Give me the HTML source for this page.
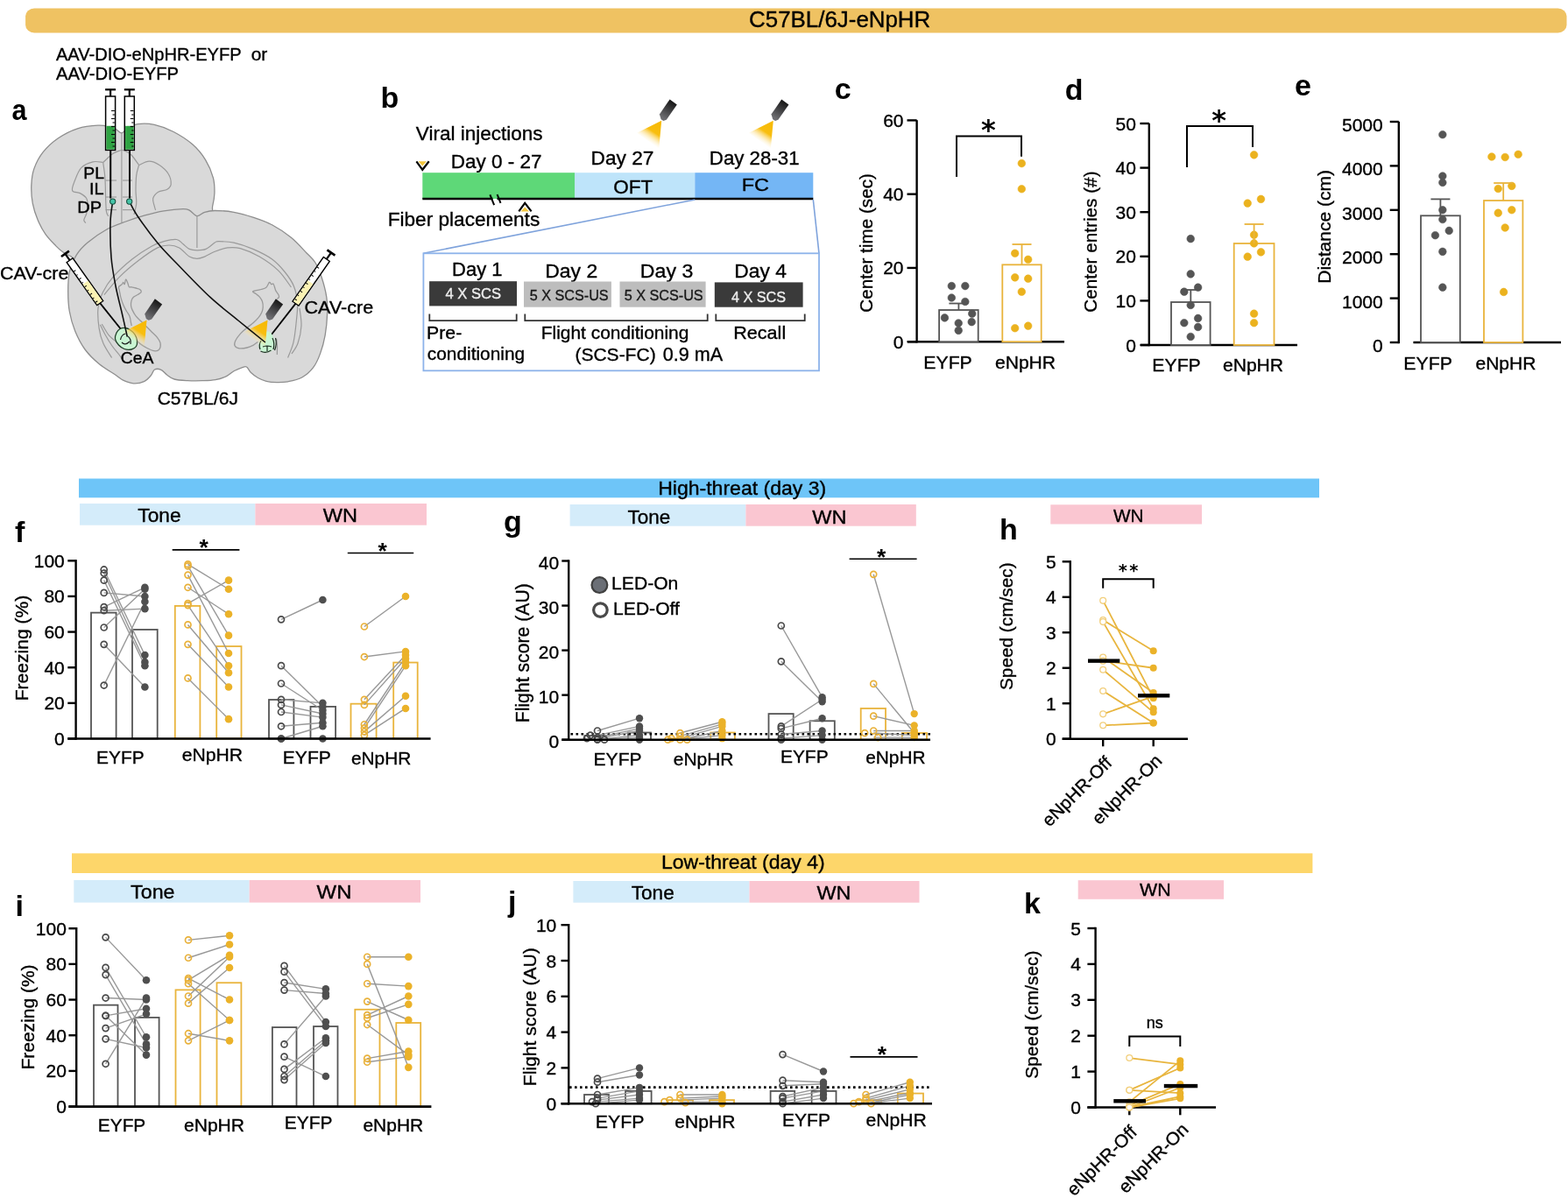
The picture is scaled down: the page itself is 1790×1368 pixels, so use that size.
<!DOCTYPE html>
<html><head><meta charset="utf-8"><title>C57BL/6J-eNpHR</title>
<style>html,body{margin:0;padding:0;background:#fff;}svg{display:block;font-family:'Liberation Sans', Arial, Helvetica, sans-serif;}</style>
</head><body>
<svg width="1790" height="1368" viewBox="0 0 1790 1368">
<rect width="1790" height="1368" fill="#fff"/>
<rect x="29.1" y="9.6" width="1759.4" height="27.8" rx="10" ry="9" fill="#EFC262"/>
<text x="855.11" y="30.8" font-size="25.3" textLength="207.15" lengthAdjust="spacingAndGlyphs" stroke="#000" stroke-width="0.35">C57BL/6J-eNpHR</text>
<text x="952.8" y="113.3" font-size="34" font-weight="bold">c</text>
<line x1="1036" y1="390.2" x2="1215" y2="390.2" stroke="#000" stroke-width="2.6"/>
<line x1="1046.6" y1="391.4" x2="1046.6" y2="137.2" stroke="#000" stroke-width="2.4"/>
<line x1="1035.5" y1="390.2" x2="1046.6" y2="390.2" stroke="#000" stroke-width="2.4"/>
<text x="1031.5" y="397.76" font-size="21" text-anchor="end" stroke="#000" stroke-width="0.35">0</text>
<line x1="1035.5" y1="305.93" x2="1046.6" y2="305.93" stroke="#000" stroke-width="2.4"/>
<text x="1031.5" y="313.49" font-size="21" text-anchor="end" stroke="#000" stroke-width="0.35">20</text>
<line x1="1035.5" y1="221.67" x2="1046.6" y2="221.67" stroke="#000" stroke-width="2.4"/>
<text x="1031.5" y="229.23" font-size="21" text-anchor="end" stroke="#000" stroke-width="0.35">40</text>
<line x1="1035.5" y1="137.4" x2="1046.6" y2="137.4" stroke="#000" stroke-width="2.4"/>
<text x="1031.5" y="144.96" font-size="21" text-anchor="end" stroke="#000" stroke-width="0.35">60</text>
<rect x="1072.1" y="354" width="44.6" height="36.2" fill="#fff" stroke="#555555" stroke-width="1.8"/>
<rect x="1144.3" y="302.3" width="44.4" height="87.9" fill="#fff" stroke="#E9B43C" stroke-width="1.8"/>
<circle cx="1086.32" cy="326.58" r="4.3" fill="#555555" stroke="#555555" stroke-width="0.6"/>
<circle cx="1101.84" cy="326.58" r="4.3" fill="#555555" stroke="#555555" stroke-width="0.6"/>
<circle cx="1086.32" cy="340" r="4.3" fill="#555555" stroke="#555555" stroke-width="0.6"/>
<circle cx="1101.84" cy="344.47" r="4.3" fill="#555555" stroke="#555555" stroke-width="0.6"/>
<circle cx="1078.42" cy="362.89" r="4.3" fill="#555555" stroke="#555555" stroke-width="0.6"/>
<circle cx="1109.74" cy="358.16" r="4.3" fill="#555555" stroke="#555555" stroke-width="0.6"/>
<circle cx="1094.21" cy="368.95" r="4.3" fill="#555555" stroke="#555555" stroke-width="0.6"/>
<circle cx="1109.21" cy="367.63" r="4.3" fill="#555555" stroke="#555555" stroke-width="0.6"/>
<circle cx="1094.21" cy="377.37" r="4.3" fill="#555555" stroke="#555555" stroke-width="0.6"/>
<circle cx="1166.32" cy="186.58" r="4.3" fill="#EBB21E" stroke="#EBB21E" stroke-width="0.6"/>
<circle cx="1166.32" cy="215.79" r="4.3" fill="#EBB21E" stroke="#EBB21E" stroke-width="0.6"/>
<circle cx="1158.68" cy="289.21" r="4.3" fill="#EBB21E" stroke="#EBB21E" stroke-width="0.6"/>
<circle cx="1173.68" cy="296.32" r="4.3" fill="#EBB21E" stroke="#EBB21E" stroke-width="0.6"/>
<circle cx="1158.68" cy="316.84" r="4.3" fill="#EBB21E" stroke="#EBB21E" stroke-width="0.6"/>
<circle cx="1173.68" cy="318.16" r="4.3" fill="#EBB21E" stroke="#EBB21E" stroke-width="0.6"/>
<circle cx="1166.32" cy="333.16" r="4.3" fill="#EBB21E" stroke="#EBB21E" stroke-width="0.6"/>
<circle cx="1158.68" cy="374.74" r="4.3" fill="#EBB21E" stroke="#EBB21E" stroke-width="0.6"/>
<circle cx="1173.68" cy="372.11" r="4.3" fill="#EBB21E" stroke="#EBB21E" stroke-width="0.6"/>
<line x1="1094.4" y1="346.5" x2="1094.4" y2="354" stroke="#555555" stroke-width="1.8"/>
<line x1="1083.4" y1="346.5" x2="1105.4" y2="346.5" stroke="#555555" stroke-width="1.8"/>
<line x1="1166.5" y1="279" x2="1166.5" y2="302.3" stroke="#E9B43C" stroke-width="1.8"/>
<line x1="1155.5" y1="279" x2="1177.5" y2="279" stroke="#E9B43C" stroke-width="1.8"/>
<text x="995.83" y="356.73" font-size="20.69" textLength="158.65" lengthAdjust="spacingAndGlyphs" transform="rotate(-90 995.83 356.73)" stroke="#000" stroke-width="0.35">Center time (sec)</text>
<text x="1054.3" y="420.8" font-size="20" textLength="55.5" lengthAdjust="spacingAndGlyphs" stroke="#000" stroke-width="0.35">EYFP</text>
<text x="1135.96" y="420.8" font-size="20" textLength="69.07" lengthAdjust="spacingAndGlyphs" stroke="#000" stroke-width="0.35">eNpHR</text>
<path d="M1092 202 V155.5 H1166 V178.7" fill="none" stroke="#000" stroke-width="2"/>
<text x="1128.4" y="159.2" font-size="32" text-anchor="middle" font-family="DejaVu Sans" font-weight="bold">*</text>
<text x="1215.8" y="114" font-size="34" font-weight="bold">d</text>
<line x1="1302" y1="394" x2="1481" y2="394" stroke="#000" stroke-width="2.6"/>
<line x1="1311.8" y1="395.2" x2="1311.8" y2="140.8" stroke="#000" stroke-width="2.4"/>
<line x1="1301.4" y1="394" x2="1311.8" y2="394" stroke="#000" stroke-width="2.4"/>
<text x="1296.9" y="401.56" font-size="21" text-anchor="end" stroke="#000" stroke-width="0.35">0</text>
<line x1="1301.4" y1="343.4" x2="1311.8" y2="343.4" stroke="#000" stroke-width="2.4"/>
<text x="1296.9" y="350.96" font-size="21" text-anchor="end" stroke="#000" stroke-width="0.35">10</text>
<line x1="1301.4" y1="292.8" x2="1311.8" y2="292.8" stroke="#000" stroke-width="2.4"/>
<text x="1296.9" y="300.36" font-size="21" text-anchor="end" stroke="#000" stroke-width="0.35">20</text>
<line x1="1301.4" y1="242.2" x2="1311.8" y2="242.2" stroke="#000" stroke-width="2.4"/>
<text x="1296.9" y="249.76" font-size="21" text-anchor="end" stroke="#000" stroke-width="0.35">30</text>
<line x1="1301.4" y1="191.6" x2="1311.8" y2="191.6" stroke="#000" stroke-width="2.4"/>
<text x="1296.9" y="199.16" font-size="21" text-anchor="end" stroke="#000" stroke-width="0.35">40</text>
<line x1="1301.4" y1="141" x2="1311.8" y2="141" stroke="#000" stroke-width="2.4"/>
<text x="1296.9" y="148.56" font-size="21" text-anchor="end" stroke="#000" stroke-width="0.35">50</text>
<rect x="1337" y="345" width="44.6" height="49" fill="#fff" stroke="#555555" stroke-width="1.8"/>
<rect x="1408.7" y="278" width="45.8" height="116" fill="#fff" stroke="#E9B43C" stroke-width="1.8"/>
<circle cx="1359.21" cy="272.63" r="4.3" fill="#555555" stroke="#555555" stroke-width="0.6"/>
<circle cx="1359.21" cy="312.89" r="4.3" fill="#555555" stroke="#555555" stroke-width="0.6"/>
<circle cx="1351.84" cy="333.16" r="4.3" fill="#555555" stroke="#555555" stroke-width="0.6"/>
<circle cx="1367.63" cy="328.16" r="4.3" fill="#555555" stroke="#555555" stroke-width="0.6"/>
<circle cx="1359.21" cy="348.42" r="4.3" fill="#555555" stroke="#555555" stroke-width="0.6"/>
<circle cx="1367.63" cy="363.42" r="4.3" fill="#555555" stroke="#555555" stroke-width="0.6"/>
<circle cx="1351.84" cy="368.68" r="4.3" fill="#555555" stroke="#555555" stroke-width="0.6"/>
<circle cx="1367.63" cy="373.42" r="4.3" fill="#555555" stroke="#555555" stroke-width="0.6"/>
<circle cx="1359.21" cy="384.47" r="4.3" fill="#555555" stroke="#555555" stroke-width="0.6"/>
<circle cx="1431.58" cy="176.84" r="4.3" fill="#EBB21E" stroke="#EBB21E" stroke-width="0.6"/>
<circle cx="1424.21" cy="232.11" r="4.3" fill="#EBB21E" stroke="#EBB21E" stroke-width="0.6"/>
<circle cx="1439.47" cy="227.37" r="4.3" fill="#EBB21E" stroke="#EBB21E" stroke-width="0.6"/>
<circle cx="1431.58" cy="268.16" r="4.3" fill="#EBB21E" stroke="#EBB21E" stroke-width="0.6"/>
<circle cx="1431.58" cy="277.89" r="4.3" fill="#EBB21E" stroke="#EBB21E" stroke-width="0.6"/>
<circle cx="1424.21" cy="293.16" r="4.3" fill="#EBB21E" stroke="#EBB21E" stroke-width="0.6"/>
<circle cx="1439.47" cy="287.89" r="4.3" fill="#EBB21E" stroke="#EBB21E" stroke-width="0.6"/>
<circle cx="1431.58" cy="358.16" r="4.3" fill="#EBB21E" stroke="#EBB21E" stroke-width="0.6"/>
<circle cx="1431.58" cy="368.68" r="4.3" fill="#EBB21E" stroke="#EBB21E" stroke-width="0.6"/>
<line x1="1359.3" y1="331" x2="1359.3" y2="345" stroke="#555555" stroke-width="1.8"/>
<line x1="1348.3" y1="331" x2="1370.3" y2="331" stroke="#555555" stroke-width="1.8"/>
<line x1="1431.6" y1="256" x2="1431.6" y2="278" stroke="#E9B43C" stroke-width="1.8"/>
<line x1="1420.6" y1="256" x2="1442.6" y2="256" stroke="#E9B43C" stroke-width="1.8"/>
<text x="1251.54" y="356.74" font-size="20.73" textLength="161.3" lengthAdjust="spacingAndGlyphs" transform="rotate(-90 1251.54 356.74)" stroke="#000" stroke-width="0.35">Center entries (#)</text>
<text x="1315.3" y="424.2" font-size="20" textLength="55.5" lengthAdjust="spacingAndGlyphs" stroke="#000" stroke-width="0.35">EYFP</text>
<text x="1395.96" y="424.2" font-size="20" textLength="69.07" lengthAdjust="spacingAndGlyphs" stroke="#000" stroke-width="0.35">eNpHR</text>
<path d="M1355 191 V144 H1430 V168" fill="none" stroke="#000" stroke-width="2"/>
<text x="1391.6" y="147.8" font-size="32" text-anchor="middle" font-family="DejaVu Sans" font-weight="bold">*</text>
<text x="1478" y="108.5" font-size="34" font-weight="bold">e</text>
<line x1="1613.4" y1="391" x2="1782" y2="391" stroke="#000" stroke-width="2.6"/>
<line x1="1596.8" y1="392.2" x2="1596.8" y2="138.8" stroke="#000" stroke-width="2.4"/>
<line x1="1586.7" y1="391" x2="1596.8" y2="391" stroke="#000" stroke-width="2.4"/>
<text x="1578.7" y="402" font-size="21" text-anchor="end" stroke="#000" stroke-width="0.35">0</text>
<line x1="1586.7" y1="340.6" x2="1596.8" y2="340.6" stroke="#000" stroke-width="2.4"/>
<text x="1578.7" y="351.6" font-size="21" text-anchor="end" stroke="#000" stroke-width="0.35">1000</text>
<line x1="1586.7" y1="290.2" x2="1596.8" y2="290.2" stroke="#000" stroke-width="2.4"/>
<text x="1578.7" y="301.2" font-size="21" text-anchor="end" stroke="#000" stroke-width="0.35">2000</text>
<line x1="1586.7" y1="239.8" x2="1596.8" y2="239.8" stroke="#000" stroke-width="2.4"/>
<text x="1578.7" y="250.8" font-size="21" text-anchor="end" stroke="#000" stroke-width="0.35">3000</text>
<line x1="1586.7" y1="189.4" x2="1596.8" y2="189.4" stroke="#000" stroke-width="2.4"/>
<text x="1578.7" y="200.4" font-size="21" text-anchor="end" stroke="#000" stroke-width="0.35">4000</text>
<line x1="1586.7" y1="139" x2="1596.8" y2="139" stroke="#000" stroke-width="2.4"/>
<text x="1578.7" y="150" font-size="21" text-anchor="end" stroke="#000" stroke-width="0.35">5000</text>
<rect x="1622" y="246.3" width="44.8" height="144.7" fill="#fff" stroke="#555555" stroke-width="1.8"/>
<rect x="1694" y="229" width="44.4" height="162" fill="#fff" stroke="#E9B43C" stroke-width="1.8"/>
<circle cx="1646.84" cy="153.68" r="4.3" fill="#555555" stroke="#555555" stroke-width="0.6"/>
<circle cx="1646.84" cy="201.05" r="4.3" fill="#555555" stroke="#555555" stroke-width="0.6"/>
<circle cx="1646.84" cy="208.42" r="4.3" fill="#555555" stroke="#555555" stroke-width="0.6"/>
<circle cx="1646.84" cy="239.74" r="4.3" fill="#555555" stroke="#555555" stroke-width="0.6"/>
<circle cx="1646.84" cy="250.53" r="4.3" fill="#555555" stroke="#555555" stroke-width="0.6"/>
<circle cx="1638.42" cy="268.68" r="4.3" fill="#555555" stroke="#555555" stroke-width="0.6"/>
<circle cx="1654.21" cy="263.42" r="4.3" fill="#555555" stroke="#555555" stroke-width="0.6"/>
<circle cx="1646.84" cy="287.37" r="4.3" fill="#555555" stroke="#555555" stroke-width="0.6"/>
<circle cx="1646.84" cy="328.16" r="4.3" fill="#555555" stroke="#555555" stroke-width="0.6"/>
<circle cx="1702.89" cy="178.95" r="4.3" fill="#EBB21E" stroke="#EBB21E" stroke-width="0.6"/>
<circle cx="1718.16" cy="179.47" r="4.3" fill="#EBB21E" stroke="#EBB21E" stroke-width="0.6"/>
<circle cx="1733.16" cy="176.32" r="4.3" fill="#EBB21E" stroke="#EBB21E" stroke-width="0.6"/>
<circle cx="1710.26" cy="215.53" r="4.3" fill="#EBB21E" stroke="#EBB21E" stroke-width="0.6"/>
<circle cx="1725.79" cy="212.37" r="4.3" fill="#EBB21E" stroke="#EBB21E" stroke-width="0.6"/>
<circle cx="1710.26" cy="243.16" r="4.3" fill="#EBB21E" stroke="#EBB21E" stroke-width="0.6"/>
<circle cx="1725.79" cy="239.74" r="4.3" fill="#EBB21E" stroke="#EBB21E" stroke-width="0.6"/>
<circle cx="1718.16" cy="260" r="4.3" fill="#EBB21E" stroke="#EBB21E" stroke-width="0.6"/>
<circle cx="1716.58" cy="333.42" r="4.3" fill="#EBB21E" stroke="#EBB21E" stroke-width="0.6"/>
<line x1="1644.4" y1="227.4" x2="1644.4" y2="246.3" stroke="#555555" stroke-width="1.8"/>
<line x1="1633.4" y1="227.4" x2="1655.4" y2="227.4" stroke="#555555" stroke-width="1.8"/>
<line x1="1716.2" y1="209" x2="1716.2" y2="229" stroke="#E9B43C" stroke-width="1.8"/>
<line x1="1705.2" y1="209" x2="1727.2" y2="209" stroke="#E9B43C" stroke-width="1.8"/>
<text x="1519.47" y="323.78" font-size="21.06" textLength="129.9" lengthAdjust="spacingAndGlyphs" transform="rotate(-90 1519.47 323.78)" stroke="#000" stroke-width="0.35">Distance (cm)</text>
<text x="1602.3" y="421.6" font-size="20" textLength="55.61" lengthAdjust="spacingAndGlyphs" stroke="#000" stroke-width="0.35">EYFP</text>
<text x="1684.46" y="421.6" font-size="20" textLength="68.97" lengthAdjust="spacingAndGlyphs" stroke="#000" stroke-width="0.35">eNpHR</text>
<rect x="90" y="546.5" width="1416" height="21.8" fill="#6EC5F8"/>
<text x="751.16" y="565" font-size="22" textLength="192.08" lengthAdjust="spacingAndGlyphs" stroke="#000" stroke-width="0.35">High-threat (day 3)</text>
<rect x="91" y="575" width="200.4" height="24.7" fill="#D4ECFA"/>
<text x="157.35" y="596.4" font-size="22" textLength="49.15" lengthAdjust="spacingAndGlyphs" stroke="#000" stroke-width="0.35">Tone</text>
<rect x="291.4" y="575" width="195.6" height="24.7" fill="#FAC6D1"/>
<text x="368.88" y="596.4" font-size="22" textLength="39.23" lengthAdjust="spacingAndGlyphs" stroke="#000" stroke-width="0.35">WN</text>
<rect x="650.6" y="576" width="200.8" height="24.7" fill="#D4ECFA"/>
<text x="716.45" y="597.6" font-size="22" textLength="48.84" lengthAdjust="spacingAndGlyphs" stroke="#000" stroke-width="0.35">Tone</text>
<rect x="851.4" y="576" width="194.4" height="24.7" fill="#FAC6D1"/>
<text x="927.38" y="597.6" font-size="22" textLength="39.23" lengthAdjust="spacingAndGlyphs" stroke="#000" stroke-width="0.35">WN</text>
<rect x="1199.3" y="576.3" width="172.7" height="22.2" fill="#FAC6D1"/>
<text x="1271" y="596" font-size="20" textLength="34.59" lengthAdjust="spacingAndGlyphs" stroke="#000" stroke-width="0.35">WN</text>
<text x="17" y="619" font-size="34" font-weight="bold">f</text>
<rect x="104" y="699.63" width="28.6" height="143.87" fill="none" stroke="#555555" stroke-width="1.8"/>
<rect x="151" y="718.94" width="28.7" height="124.56" fill="none" stroke="#555555" stroke-width="1.8"/>
<rect x="199.8" y="691.91" width="28.6" height="151.59" fill="none" stroke="#E9B43C" stroke-width="1.8"/>
<rect x="247.2" y="738.04" width="28.3" height="105.46" fill="none" stroke="#E9B43C" stroke-width="1.8"/>
<rect x="307" y="799" width="28.4" height="44.5" fill="none" stroke="#555555" stroke-width="1.8"/>
<rect x="354.5" y="806.92" width="28.6" height="36.58" fill="none" stroke="#555555" stroke-width="1.8"/>
<rect x="400.5" y="803.67" width="29.1" height="39.83" fill="none" stroke="#E9B43C" stroke-width="1.8"/>
<rect x="449.2" y="756.53" width="27.5" height="86.97" fill="none" stroke="#E9B43C" stroke-width="1.8"/>
<line x1="86.6" y1="844.8" x2="86.6" y2="639.1" stroke="#000" stroke-width="2.4"/>
<line x1="77.3" y1="843.5" x2="86.6" y2="843.5" stroke="#000" stroke-width="2.4"/>
<text x="73.8" y="851" font-size="21" text-anchor="end" stroke="#000" stroke-width="0.35">0</text>
<line x1="77.3" y1="802.86" x2="86.6" y2="802.86" stroke="#000" stroke-width="2.4"/>
<text x="73.8" y="810.36" font-size="21" text-anchor="end" stroke="#000" stroke-width="0.35">20</text>
<line x1="77.3" y1="762.22" x2="86.6" y2="762.22" stroke="#000" stroke-width="2.4"/>
<text x="73.8" y="769.72" font-size="21" text-anchor="end" stroke="#000" stroke-width="0.35">40</text>
<line x1="77.3" y1="721.58" x2="86.6" y2="721.58" stroke="#000" stroke-width="2.4"/>
<text x="73.8" y="729.08" font-size="21" text-anchor="end" stroke="#000" stroke-width="0.35">60</text>
<line x1="77.3" y1="680.94" x2="86.6" y2="680.94" stroke="#000" stroke-width="2.4"/>
<text x="73.8" y="688.44" font-size="21" text-anchor="end" stroke="#000" stroke-width="0.35">80</text>
<line x1="77.3" y1="640.3" x2="86.6" y2="640.3" stroke="#000" stroke-width="2.4"/>
<text x="73.8" y="647.8" font-size="21" text-anchor="end" stroke="#000" stroke-width="0.35">100</text>
<line x1="118.7" y1="650.46" x2="165.4" y2="748" stroke="#989898" stroke-width="1.4"/>
<line x1="118.7" y1="654.52" x2="165.4" y2="756.12" stroke="#989898" stroke-width="1.4"/>
<line x1="118.7" y1="662.65" x2="165.4" y2="760.19" stroke="#989898" stroke-width="1.4"/>
<line x1="118.7" y1="676.88" x2="165.4" y2="680.94" stroke="#989898" stroke-width="1.4"/>
<line x1="118.7" y1="693.13" x2="165.4" y2="670.78" stroke="#989898" stroke-width="1.4"/>
<line x1="118.7" y1="697.2" x2="165.4" y2="695.16" stroke="#989898" stroke-width="1.4"/>
<line x1="118.7" y1="716.5" x2="165.4" y2="672.81" stroke="#989898" stroke-width="1.4"/>
<line x1="118.7" y1="735.8" x2="165.4" y2="784.57" stroke="#989898" stroke-width="1.4"/>
<line x1="118.7" y1="782.54" x2="165.4" y2="687.04" stroke="#989898" stroke-width="1.4"/>
<line x1="214.5" y1="644.36" x2="261" y2="672.81" stroke="#989898" stroke-width="1.4"/>
<line x1="214.5" y1="646.4" x2="261" y2="725.64" stroke="#989898" stroke-width="1.4"/>
<line x1="214.5" y1="656.56" x2="261" y2="745.96" stroke="#989898" stroke-width="1.4"/>
<line x1="214.5" y1="670.78" x2="261" y2="701.26" stroke="#989898" stroke-width="1.4"/>
<line x1="214.5" y1="689.07" x2="261" y2="662.65" stroke="#989898" stroke-width="1.4"/>
<line x1="214.5" y1="691.1" x2="261" y2="760.19" stroke="#989898" stroke-width="1.4"/>
<line x1="214.5" y1="713.45" x2="261" y2="768.32" stroke="#989898" stroke-width="1.4"/>
<line x1="214.5" y1="735.8" x2="261" y2="784.57" stroke="#989898" stroke-width="1.4"/>
<line x1="214.5" y1="774.41" x2="261" y2="821.15" stroke="#989898" stroke-width="1.4"/>
<line x1="321" y1="707.36" x2="368.4" y2="685" stroke="#989898" stroke-width="1.4"/>
<line x1="321" y1="760.19" x2="368.4" y2="806.92" stroke="#989898" stroke-width="1.4"/>
<line x1="321" y1="780.51" x2="368.4" y2="810.99" stroke="#989898" stroke-width="1.4"/>
<line x1="321" y1="798.8" x2="368.4" y2="802.86" stroke="#989898" stroke-width="1.4"/>
<line x1="321" y1="804.89" x2="368.4" y2="815.05" stroke="#989898" stroke-width="1.4"/>
<line x1="321" y1="813.02" x2="368.4" y2="819.12" stroke="#989898" stroke-width="1.4"/>
<line x1="321" y1="829.28" x2="368.4" y2="825.21" stroke="#989898" stroke-width="1.4"/>
<line x1="321" y1="843.5" x2="368.4" y2="829.28" stroke="#989898" stroke-width="1.4"/>
<line x1="321" y1="843.5" x2="368.4" y2="843.5" stroke="#989898" stroke-width="1.4"/>
<line x1="415.9" y1="715.48" x2="463" y2="680.94" stroke="#989898" stroke-width="1.4"/>
<line x1="415.9" y1="750.03" x2="463" y2="743.93" stroke="#989898" stroke-width="1.4"/>
<line x1="415.9" y1="798.8" x2="463" y2="748" stroke="#989898" stroke-width="1.4"/>
<line x1="415.9" y1="804.89" x2="463" y2="752.06" stroke="#989898" stroke-width="1.4"/>
<line x1="415.9" y1="827.24" x2="463" y2="756.12" stroke="#989898" stroke-width="1.4"/>
<line x1="415.9" y1="831.31" x2="463" y2="760.19" stroke="#989898" stroke-width="1.4"/>
<line x1="415.9" y1="835.37" x2="463" y2="794.73" stroke="#989898" stroke-width="1.4"/>
<line x1="415.9" y1="839.44" x2="463" y2="808.96" stroke="#989898" stroke-width="1.4"/>
<circle cx="118.7" cy="650.46" r="3.5" fill="none" stroke="#4a4a4a" stroke-width="1.7"/>
<circle cx="118.7" cy="654.52" r="3.5" fill="none" stroke="#4a4a4a" stroke-width="1.7"/>
<circle cx="118.7" cy="662.65" r="3.5" fill="none" stroke="#4a4a4a" stroke-width="1.7"/>
<circle cx="118.7" cy="676.88" r="3.5" fill="none" stroke="#4a4a4a" stroke-width="1.7"/>
<circle cx="118.7" cy="693.13" r="3.5" fill="none" stroke="#4a4a4a" stroke-width="1.7"/>
<circle cx="118.7" cy="697.2" r="3.5" fill="none" stroke="#4a4a4a" stroke-width="1.7"/>
<circle cx="118.7" cy="716.5" r="3.5" fill="none" stroke="#4a4a4a" stroke-width="1.7"/>
<circle cx="118.7" cy="735.8" r="3.5" fill="none" stroke="#4a4a4a" stroke-width="1.7"/>
<circle cx="118.7" cy="782.54" r="3.5" fill="none" stroke="#4a4a4a" stroke-width="1.7"/>
<circle cx="165.4" cy="748" r="4.3" fill="#4f4f4f"/>
<circle cx="165.4" cy="756.12" r="4.3" fill="#4f4f4f"/>
<circle cx="165.4" cy="760.19" r="4.3" fill="#4f4f4f"/>
<circle cx="165.4" cy="680.94" r="4.3" fill="#4f4f4f"/>
<circle cx="165.4" cy="670.78" r="4.3" fill="#4f4f4f"/>
<circle cx="165.4" cy="695.16" r="4.3" fill="#4f4f4f"/>
<circle cx="165.4" cy="672.81" r="4.3" fill="#4f4f4f"/>
<circle cx="165.4" cy="784.57" r="4.3" fill="#4f4f4f"/>
<circle cx="165.4" cy="687.04" r="4.3" fill="#4f4f4f"/>
<circle cx="214.5" cy="644.36" r="3.5" fill="none" stroke="#E9B13A" stroke-width="1.7"/>
<circle cx="214.5" cy="646.4" r="3.5" fill="none" stroke="#E9B13A" stroke-width="1.7"/>
<circle cx="214.5" cy="656.56" r="3.5" fill="none" stroke="#E9B13A" stroke-width="1.7"/>
<circle cx="214.5" cy="670.78" r="3.5" fill="none" stroke="#E9B13A" stroke-width="1.7"/>
<circle cx="214.5" cy="689.07" r="3.5" fill="none" stroke="#E9B13A" stroke-width="1.7"/>
<circle cx="214.5" cy="691.1" r="3.5" fill="none" stroke="#E9B13A" stroke-width="1.7"/>
<circle cx="214.5" cy="713.45" r="3.5" fill="none" stroke="#E9B13A" stroke-width="1.7"/>
<circle cx="214.5" cy="735.8" r="3.5" fill="none" stroke="#E9B13A" stroke-width="1.7"/>
<circle cx="214.5" cy="774.41" r="3.5" fill="none" stroke="#E9B13A" stroke-width="1.7"/>
<circle cx="261" cy="672.81" r="4.3" fill="#EBB229"/>
<circle cx="261" cy="725.64" r="4.3" fill="#EBB229"/>
<circle cx="261" cy="745.96" r="4.3" fill="#EBB229"/>
<circle cx="261" cy="701.26" r="4.3" fill="#EBB229"/>
<circle cx="261" cy="662.65" r="4.3" fill="#EBB229"/>
<circle cx="261" cy="760.19" r="4.3" fill="#EBB229"/>
<circle cx="261" cy="768.32" r="4.3" fill="#EBB229"/>
<circle cx="261" cy="784.57" r="4.3" fill="#EBB229"/>
<circle cx="261" cy="821.15" r="4.3" fill="#EBB229"/>
<circle cx="321" cy="707.36" r="3.5" fill="none" stroke="#4a4a4a" stroke-width="1.7"/>
<circle cx="321" cy="760.19" r="3.5" fill="none" stroke="#4a4a4a" stroke-width="1.7"/>
<circle cx="321" cy="780.51" r="3.5" fill="none" stroke="#4a4a4a" stroke-width="1.7"/>
<circle cx="321" cy="798.8" r="3.5" fill="none" stroke="#4a4a4a" stroke-width="1.7"/>
<circle cx="321" cy="804.89" r="3.5" fill="none" stroke="#4a4a4a" stroke-width="1.7"/>
<circle cx="321" cy="813.02" r="3.5" fill="none" stroke="#4a4a4a" stroke-width="1.7"/>
<circle cx="321" cy="829.28" r="3.5" fill="none" stroke="#4a4a4a" stroke-width="1.7"/>
<circle cx="321" cy="843.5" r="3.5" fill="none" stroke="#4a4a4a" stroke-width="1.7"/>
<circle cx="321" cy="843.5" r="4.3" fill="#4f4f4f"/>
<circle cx="368.4" cy="685" r="4.3" fill="#4f4f4f"/>
<circle cx="368.4" cy="806.92" r="4.3" fill="#4f4f4f"/>
<circle cx="368.4" cy="810.99" r="4.3" fill="#4f4f4f"/>
<circle cx="368.4" cy="802.86" r="4.3" fill="#4f4f4f"/>
<circle cx="368.4" cy="815.05" r="4.3" fill="#4f4f4f"/>
<circle cx="368.4" cy="819.12" r="4.3" fill="#4f4f4f"/>
<circle cx="368.4" cy="825.21" r="4.3" fill="#4f4f4f"/>
<circle cx="368.4" cy="829.28" r="4.3" fill="#4f4f4f"/>
<circle cx="368.4" cy="843.5" r="4.3" fill="#4f4f4f"/>
<circle cx="415.9" cy="715.48" r="3.5" fill="none" stroke="#E9B13A" stroke-width="1.7"/>
<circle cx="415.9" cy="750.03" r="3.5" fill="none" stroke="#E9B13A" stroke-width="1.7"/>
<circle cx="415.9" cy="798.8" r="3.5" fill="none" stroke="#E9B13A" stroke-width="1.7"/>
<circle cx="415.9" cy="804.89" r="3.5" fill="none" stroke="#E9B13A" stroke-width="1.7"/>
<circle cx="415.9" cy="827.24" r="3.5" fill="none" stroke="#E9B13A" stroke-width="1.7"/>
<circle cx="415.9" cy="831.31" r="3.5" fill="none" stroke="#E9B13A" stroke-width="1.7"/>
<circle cx="415.9" cy="835.37" r="3.5" fill="none" stroke="#E9B13A" stroke-width="1.7"/>
<circle cx="415.9" cy="839.44" r="3.5" fill="none" stroke="#E9B13A" stroke-width="1.7"/>
<circle cx="463" cy="680.94" r="4.3" fill="#EBB229"/>
<circle cx="463" cy="743.93" r="4.3" fill="#EBB229"/>
<circle cx="463" cy="748" r="4.3" fill="#EBB229"/>
<circle cx="463" cy="752.06" r="4.3" fill="#EBB229"/>
<circle cx="463" cy="756.12" r="4.3" fill="#EBB229"/>
<circle cx="463" cy="760.19" r="4.3" fill="#EBB229"/>
<circle cx="463" cy="794.73" r="4.3" fill="#EBB229"/>
<circle cx="463" cy="808.96" r="4.3" fill="#EBB229"/>
<line x1="77.3" y1="843.5" x2="491.6" y2="843.5" stroke="#000" stroke-width="2.6"/>
<text x="110.13" y="872.2" font-size="20" textLength="54.56" lengthAdjust="spacingAndGlyphs" stroke="#000" stroke-width="0.35">EYFP</text>
<text x="207.75" y="869.3" font-size="20" textLength="69.28" lengthAdjust="spacingAndGlyphs" stroke="#000" stroke-width="0.35">eNpHR</text>
<text x="322.81" y="872.2" font-size="20" textLength="55.08" lengthAdjust="spacingAndGlyphs" stroke="#000" stroke-width="0.35">EYFP</text>
<text x="400.97" y="872.8" font-size="20" textLength="68.35" lengthAdjust="spacingAndGlyphs" stroke="#000" stroke-width="0.35">eNpHR</text>
<text x="31.78" y="800.29" font-size="21.08" textLength="120.63" lengthAdjust="spacingAndGlyphs" transform="rotate(-90 31.78 800.29)" stroke="#000" stroke-width="0.35">Freezing (%)</text>
<line x1="196.7" y1="627.9" x2="273.4" y2="627.9" stroke="#000" stroke-width="1.6"/>
<text x="232.7" y="633.81" font-size="26.5" text-anchor="middle" font-weight="bold">*</text>
<line x1="396.8" y1="631.5" x2="472.2" y2="631.5" stroke="#000" stroke-width="1.6"/>
<text x="436.7" y="638.41" font-size="26.5" text-anchor="middle" font-weight="bold">*</text>
<text x="575" y="607" font-size="34" font-weight="bold">g</text>
<rect x="667.5" y="840.11" width="24.5" height="4.59" fill="none" stroke="#555555" stroke-width="1.8"/>
<rect x="717" y="836.53" width="26" height="8.17" fill="none" stroke="#555555" stroke-width="1.8"/>
<rect x="763.4" y="843.17" width="29" height="1.53" fill="none" stroke="#E9B43C" stroke-width="1.8"/>
<rect x="811.3" y="836.53" width="27.6" height="8.17" fill="none" stroke="#E9B43C" stroke-width="1.8"/>
<rect x="877.5" y="815.09" width="28.2" height="29.61" fill="none" stroke="#555555" stroke-width="1.8"/>
<rect x="924.6" y="823.26" width="28.2" height="21.44" fill="none" stroke="#555555" stroke-width="1.8"/>
<rect x="982.7" y="808.97" width="28.3" height="35.74" fill="none" stroke="#E9B43C" stroke-width="1.8"/>
<rect x="1029.8" y="837.04" width="28.2" height="7.66" fill="none" stroke="#E9B43C" stroke-width="1.8"/>
<line x1="651.5" y1="838.32" x2="1062" y2="838.32" stroke="#000" stroke-width="2.6" stroke-dasharray="2.6 3.4"/>
<line x1="649.2" y1="846" x2="649.2" y2="639.3" stroke="#000" stroke-width="2.4"/>
<line x1="641.3" y1="844.7" x2="649.2" y2="844.7" stroke="#000" stroke-width="2.4"/>
<text x="638.1" y="853.7" font-size="21" text-anchor="end" stroke="#000" stroke-width="0.35">0</text>
<line x1="641.3" y1="793.65" x2="649.2" y2="793.65" stroke="#000" stroke-width="2.4"/>
<text x="638.1" y="802.65" font-size="21" text-anchor="end" stroke="#000" stroke-width="0.35">10</text>
<line x1="641.3" y1="742.6" x2="649.2" y2="742.6" stroke="#000" stroke-width="2.4"/>
<text x="638.1" y="751.6" font-size="21" text-anchor="end" stroke="#000" stroke-width="0.35">20</text>
<line x1="641.3" y1="691.55" x2="649.2" y2="691.55" stroke="#000" stroke-width="2.4"/>
<text x="638.1" y="700.55" font-size="21" text-anchor="end" stroke="#000" stroke-width="0.35">30</text>
<line x1="641.3" y1="640.5" x2="649.2" y2="640.5" stroke="#000" stroke-width="2.4"/>
<text x="638.1" y="649.5" font-size="21" text-anchor="end" stroke="#000" stroke-width="0.35">40</text>
<line x1="682" y1="834.49" x2="730" y2="820.2" stroke="#989898" stroke-width="1.4"/>
<line x1="682" y1="839.6" x2="730" y2="829.38" stroke="#989898" stroke-width="1.4"/>
<line x1="682" y1="842.15" x2="730" y2="831.94" stroke="#989898" stroke-width="1.4"/>
<line x1="682" y1="843.17" x2="730" y2="834.49" stroke="#989898" stroke-width="1.4"/>
<line x1="682" y1="844.19" x2="730" y2="839.6" stroke="#989898" stroke-width="1.4"/>
<line x1="682" y1="844.7" x2="730" y2="842.15" stroke="#989898" stroke-width="1.4"/>
<line x1="682" y1="844.7" x2="730" y2="844.7" stroke="#989898" stroke-width="1.4"/>
<line x1="776.4" y1="837.04" x2="824.4" y2="824.28" stroke="#989898" stroke-width="1.4"/>
<line x1="776.4" y1="840.62" x2="824.4" y2="826.83" stroke="#989898" stroke-width="1.4"/>
<line x1="776.4" y1="843.17" x2="824.4" y2="829.38" stroke="#989898" stroke-width="1.4"/>
<line x1="776.4" y1="844.7" x2="824.4" y2="834.49" stroke="#989898" stroke-width="1.4"/>
<line x1="776.4" y1="844.7" x2="824.4" y2="839.6" stroke="#989898" stroke-width="1.4"/>
<line x1="776.4" y1="844.7" x2="824.4" y2="843.17" stroke="#989898" stroke-width="1.4"/>
<line x1="891.8" y1="714.52" x2="938.6" y2="796.2" stroke="#989898" stroke-width="1.4"/>
<line x1="891.8" y1="755.36" x2="938.6" y2="801.31" stroke="#989898" stroke-width="1.4"/>
<line x1="891.8" y1="829.38" x2="938.6" y2="798.75" stroke="#989898" stroke-width="1.4"/>
<line x1="891.8" y1="831.94" x2="938.6" y2="820.2" stroke="#989898" stroke-width="1.4"/>
<line x1="891.8" y1="838.57" x2="938.6" y2="834.49" stroke="#989898" stroke-width="1.4"/>
<line x1="891.8" y1="843.17" x2="938.6" y2="839.6" stroke="#989898" stroke-width="1.4"/>
<line x1="891.8" y1="844.7" x2="938.6" y2="844.7" stroke="#989898" stroke-width="1.4"/>
<line x1="997.2" y1="655.82" x2="1043.7" y2="815.09" stroke="#989898" stroke-width="1.4"/>
<line x1="997.2" y1="780.89" x2="1043.7" y2="837.04" stroke="#989898" stroke-width="1.4"/>
<line x1="997.2" y1="817.64" x2="1043.7" y2="828.36" stroke="#989898" stroke-width="1.4"/>
<line x1="997.2" y1="834.49" x2="1043.7" y2="834.49" stroke="#989898" stroke-width="1.4"/>
<line x1="997.2" y1="837.04" x2="1043.7" y2="839.6" stroke="#989898" stroke-width="1.4"/>
<line x1="997.2" y1="842.15" x2="1043.7" y2="842.15" stroke="#989898" stroke-width="1.4"/>
<circle cx="682" cy="834.49" r="3.5" fill="none" stroke="#4a4a4a" stroke-width="1.7"/>
<circle cx="674" cy="839.6" r="3.5" fill="none" stroke="#4a4a4a" stroke-width="1.7"/>
<circle cx="682" cy="842.15" r="3.5" fill="none" stroke="#4a4a4a" stroke-width="1.7"/>
<circle cx="670" cy="843.17" r="3.5" fill="none" stroke="#4a4a4a" stroke-width="1.7"/>
<circle cx="682" cy="844.19" r="3.5" fill="none" stroke="#4a4a4a" stroke-width="1.7"/>
<circle cx="690" cy="844.7" r="3.5" fill="none" stroke="#4a4a4a" stroke-width="1.7"/>
<circle cx="682" cy="844.7" r="3.5" fill="none" stroke="#4a4a4a" stroke-width="1.7"/>
<circle cx="730" cy="820.2" r="4.2" fill="#4f4f4f"/>
<circle cx="730" cy="829.38" r="4.2" fill="#4f4f4f"/>
<circle cx="730" cy="831.94" r="4.2" fill="#4f4f4f"/>
<circle cx="730" cy="834.49" r="4.2" fill="#4f4f4f"/>
<circle cx="730" cy="839.6" r="4.2" fill="#4f4f4f"/>
<circle cx="730" cy="842.15" r="4.2" fill="#4f4f4f"/>
<circle cx="730" cy="844.7" r="4.2" fill="#4f4f4f"/>
<circle cx="776.4" cy="837.04" r="3.5" fill="none" stroke="#E9B13A" stroke-width="1.7"/>
<circle cx="776.4" cy="840.62" r="3.5" fill="none" stroke="#E9B13A" stroke-width="1.7"/>
<circle cx="766.4" cy="843.17" r="3.5" fill="none" stroke="#E9B13A" stroke-width="1.7"/>
<circle cx="784.4" cy="844.7" r="3.5" fill="none" stroke="#E9B13A" stroke-width="1.7"/>
<circle cx="762.4" cy="844.7" r="3.5" fill="none" stroke="#E9B13A" stroke-width="1.7"/>
<circle cx="776.4" cy="844.7" r="3.5" fill="none" stroke="#E9B13A" stroke-width="1.7"/>
<circle cx="824.4" cy="824.28" r="4.2" fill="#EBB229"/>
<circle cx="824.4" cy="826.83" r="4.2" fill="#EBB229"/>
<circle cx="824.4" cy="829.38" r="4.2" fill="#EBB229"/>
<circle cx="824.4" cy="834.49" r="4.2" fill="#EBB229"/>
<circle cx="824.4" cy="839.6" r="4.2" fill="#EBB229"/>
<circle cx="824.4" cy="843.17" r="4.2" fill="#EBB229"/>
<circle cx="891.8" cy="714.52" r="3.5" fill="none" stroke="#4a4a4a" stroke-width="1.7"/>
<circle cx="891.8" cy="755.36" r="3.5" fill="none" stroke="#4a4a4a" stroke-width="1.7"/>
<circle cx="891.8" cy="829.38" r="3.5" fill="none" stroke="#4a4a4a" stroke-width="1.7"/>
<circle cx="891.8" cy="831.94" r="3.5" fill="none" stroke="#4a4a4a" stroke-width="1.7"/>
<circle cx="891.8" cy="838.57" r="3.5" fill="none" stroke="#4a4a4a" stroke-width="1.7"/>
<circle cx="891.8" cy="843.17" r="3.5" fill="none" stroke="#4a4a4a" stroke-width="1.7"/>
<circle cx="891.8" cy="844.7" r="3.5" fill="none" stroke="#4a4a4a" stroke-width="1.7"/>
<circle cx="938.6" cy="796.2" r="4.2" fill="#4f4f4f"/>
<circle cx="938.6" cy="801.31" r="4.2" fill="#4f4f4f"/>
<circle cx="938.6" cy="798.75" r="4.2" fill="#4f4f4f"/>
<circle cx="938.6" cy="820.2" r="4.2" fill="#4f4f4f"/>
<circle cx="938.6" cy="834.49" r="4.2" fill="#4f4f4f"/>
<circle cx="938.6" cy="839.6" r="4.2" fill="#4f4f4f"/>
<circle cx="938.6" cy="844.7" r="4.2" fill="#4f4f4f"/>
<circle cx="997.2" cy="655.82" r="3.5" fill="none" stroke="#E9B13A" stroke-width="1.7"/>
<circle cx="997.2" cy="780.89" r="3.5" fill="none" stroke="#E9B13A" stroke-width="1.7"/>
<circle cx="997.2" cy="817.64" r="3.5" fill="none" stroke="#E9B13A" stroke-width="1.7"/>
<circle cx="997.2" cy="834.49" r="3.5" fill="none" stroke="#E9B13A" stroke-width="1.7"/>
<circle cx="987.2" cy="837.04" r="3.5" fill="none" stroke="#E9B13A" stroke-width="1.7"/>
<circle cx="1002.2" cy="842.15" r="3.5" fill="none" stroke="#E9B13A" stroke-width="1.7"/>
<circle cx="1043.7" cy="815.09" r="4.2" fill="#EBB229"/>
<circle cx="1043.7" cy="837.04" r="4.2" fill="#EBB229"/>
<circle cx="1043.7" cy="828.36" r="4.2" fill="#EBB229"/>
<circle cx="1043.7" cy="834.49" r="4.2" fill="#EBB229"/>
<circle cx="1043.7" cy="839.6" r="4.2" fill="#EBB229"/>
<circle cx="1043.7" cy="842.15" r="4.2" fill="#EBB229"/>
<line x1="641.3" y1="844.7" x2="1062" y2="844.7" stroke="#000" stroke-width="2.6"/>
<text x="677.62" y="873.5" font-size="20" textLength="54.87" lengthAdjust="spacingAndGlyphs" stroke="#000" stroke-width="0.35">EYFP</text>
<text x="768.76" y="873.5" font-size="20" textLength="68.76" lengthAdjust="spacingAndGlyphs" stroke="#000" stroke-width="0.35">eNpHR</text>
<text x="890.92" y="870.5" font-size="20" textLength="54.77" lengthAdjust="spacingAndGlyphs" stroke="#000" stroke-width="0.35">EYFP</text>
<text x="988.17" y="871.5" font-size="20" textLength="68.35" lengthAdjust="spacingAndGlyphs" stroke="#000" stroke-width="0.35">eNpHR</text>
<text x="603.56" y="825.3" font-size="21.22" textLength="159.21" lengthAdjust="spacingAndGlyphs" transform="rotate(-90 603.56 825.3)" stroke="#000" stroke-width="0.35">Flight score (AU)</text>
<line x1="969.6" y1="638.2" x2="1046.6" y2="638.2" stroke="#000" stroke-width="1.6"/>
<text x="1006.2" y="644.51" font-size="26.5" text-anchor="middle" font-weight="bold">*</text>
<circle cx="684.4" cy="668.1" r="8.9" fill="#6b6f76" stroke="#3f3f3f" stroke-width="2.2"/>
<circle cx="685.4" cy="696.6" r="7.8" fill="#fff" stroke="#4a4a4a" stroke-width="3.2"/>
<text x="698.11" y="673.1" font-size="20.5" textLength="76.21" lengthAdjust="spacingAndGlyphs" stroke="#000" stroke-width="0.35">LED-On</text>
<text x="700.11" y="702.3" font-size="20.5" textLength="75.76" lengthAdjust="spacingAndGlyphs" stroke="#000" stroke-width="0.35">LED-Off</text>
<text x="1141" y="615.6" font-size="34" font-weight="bold">h</text>
<line x1="1212.7" y1="843.7" x2="1356" y2="843.7" stroke="#000" stroke-width="2.6"/>
<line x1="1221.8" y1="845" x2="1221.8" y2="640.1" stroke="#000" stroke-width="2.4"/>
<line x1="1212.7" y1="843.7" x2="1221.8" y2="843.7" stroke="#000" stroke-width="2.4"/>
<text x="1205.7" y="851.2" font-size="21" text-anchor="end" stroke="#000" stroke-width="0.35">0</text>
<line x1="1212.7" y1="803.22" x2="1221.8" y2="803.22" stroke="#000" stroke-width="2.4"/>
<text x="1205.7" y="810.72" font-size="21" text-anchor="end" stroke="#000" stroke-width="0.35">1</text>
<line x1="1212.7" y1="762.74" x2="1221.8" y2="762.74" stroke="#000" stroke-width="2.4"/>
<text x="1205.7" y="770.24" font-size="21" text-anchor="end" stroke="#000" stroke-width="0.35">2</text>
<line x1="1212.7" y1="722.26" x2="1221.8" y2="722.26" stroke="#000" stroke-width="2.4"/>
<text x="1205.7" y="729.76" font-size="21" text-anchor="end" stroke="#000" stroke-width="0.35">3</text>
<line x1="1212.7" y1="681.78" x2="1221.8" y2="681.78" stroke="#000" stroke-width="2.4"/>
<text x="1205.7" y="689.28" font-size="21" text-anchor="end" stroke="#000" stroke-width="0.35">4</text>
<line x1="1212.7" y1="641.3" x2="1221.8" y2="641.3" stroke="#000" stroke-width="2.4"/>
<text x="1205.7" y="648.8" font-size="21" text-anchor="end" stroke="#000" stroke-width="0.35">5</text>
<line x1="1259.2" y1="843.7" x2="1259.2" y2="852.3" stroke="#000" stroke-width="2.4"/>
<line x1="1316.7" y1="843.7" x2="1316.7" y2="852.3" stroke="#000" stroke-width="2.4"/>
<line x1="1259.2" y1="685.83" x2="1316.7" y2="797.15" stroke="#E8B53E" stroke-width="1.8"/>
<line x1="1259.2" y1="708.09" x2="1316.7" y2="743.31" stroke="#E8B53E" stroke-width="1.8"/>
<line x1="1259.2" y1="710.12" x2="1316.7" y2="809.29" stroke="#E8B53E" stroke-width="1.8"/>
<line x1="1259.2" y1="750.6" x2="1316.7" y2="791.08" stroke="#E8B53E" stroke-width="1.8"/>
<line x1="1259.2" y1="754.64" x2="1316.7" y2="762.74" stroke="#E8B53E" stroke-width="1.8"/>
<line x1="1259.2" y1="764.76" x2="1316.7" y2="813.34" stroke="#E8B53E" stroke-width="1.8"/>
<line x1="1259.2" y1="789.05" x2="1316.7" y2="825.48" stroke="#E8B53E" stroke-width="1.8"/>
<line x1="1259.2" y1="815.36" x2="1316.7" y2="795.12" stroke="#E8B53E" stroke-width="1.8"/>
<line x1="1259.2" y1="828.32" x2="1316.7" y2="825.48" stroke="#E8B53E" stroke-width="1.8"/>
<circle cx="1259.2" cy="685.83" r="3.4" fill="#fff" stroke="#F2CF7C" stroke-width="1.3"/>
<circle cx="1259.2" cy="708.09" r="3.4" fill="#fff" stroke="#F2CF7C" stroke-width="1.3"/>
<circle cx="1259.2" cy="710.12" r="3.4" fill="#fff" stroke="#F2CF7C" stroke-width="1.3"/>
<circle cx="1259.2" cy="750.6" r="3.4" fill="#fff" stroke="#F2CF7C" stroke-width="1.3"/>
<circle cx="1259.2" cy="754.64" r="3.4" fill="#fff" stroke="#F2CF7C" stroke-width="1.3"/>
<circle cx="1259.2" cy="764.76" r="3.4" fill="#fff" stroke="#F2CF7C" stroke-width="1.3"/>
<circle cx="1259.2" cy="789.05" r="3.4" fill="#fff" stroke="#F2CF7C" stroke-width="1.3"/>
<circle cx="1259.2" cy="815.36" r="3.4" fill="#fff" stroke="#F2CF7C" stroke-width="1.3"/>
<circle cx="1259.2" cy="828.32" r="3.4" fill="#fff" stroke="#F2CF7C" stroke-width="1.3"/>
<circle cx="1316.7" cy="797.15" r="4" fill="#EBB229"/>
<circle cx="1316.7" cy="743.31" r="4" fill="#EBB229"/>
<circle cx="1316.7" cy="809.29" r="4" fill="#EBB229"/>
<circle cx="1316.7" cy="791.08" r="4" fill="#EBB229"/>
<circle cx="1316.7" cy="762.74" r="4" fill="#EBB229"/>
<circle cx="1316.7" cy="813.34" r="4" fill="#EBB229"/>
<circle cx="1316.7" cy="825.48" r="4" fill="#EBB229"/>
<circle cx="1316.7" cy="795.12" r="4" fill="#EBB229"/>
<circle cx="1316.7" cy="825.48" r="4" fill="#EBB229"/>
<rect x="1242" y="752.44" width="36.3" height="4.4" fill="#000"/>
<rect x="1299" y="792.11" width="36.3" height="4.4" fill="#000"/>
<text x="1156.16" y="788.04" font-size="20.8" textLength="145.64" lengthAdjust="spacingAndGlyphs" transform="rotate(-90 1156.16 788.04)" stroke="#000" stroke-width="0.35">Speed (cm/sec)</text>
<path d="M1259.2 671.8 V661.2 H1316.7 V671.8" fill="none" stroke="#000" stroke-width="2"/>
<text x="1289.2" y="657.98" font-size="19.4" text-anchor="middle" font-family="DejaVu Sans" font-weight="bold" letter-spacing="2.4">**</text>
<text x="1270.5" y="872.5" font-size="20.5" text-anchor="end" textLength="102.5" lengthAdjust="spacingAndGlyphs" transform="rotate(-45 1270.5 872.5)" stroke="#000" stroke-width="0.35">eNpHR-Off</text>
<text x="1327.8" y="870" font-size="20.5" text-anchor="end" textLength="103" lengthAdjust="spacingAndGlyphs" transform="rotate(-45 1327.8 870)" stroke="#000" stroke-width="0.35">eNpHR-On</text>
<rect x="82" y="974.4" width="1416.4" height="22.6" fill="#FDD66A"/>
<text x="754.96" y="992.2" font-size="22" textLength="186.74" lengthAdjust="spacingAndGlyphs" stroke="#000" stroke-width="0.35">Low-threat (day 4)</text>
<rect x="84.3" y="1005" width="200.4" height="25.6" fill="#D4ECFA"/>
<text x="149.14" y="1026.4" font-size="22" textLength="50.39" lengthAdjust="spacingAndGlyphs" stroke="#000" stroke-width="0.35">Tone</text>
<rect x="284.7" y="1005" width="195.3" height="25.6" fill="#FAC6D1"/>
<text x="361.58" y="1026.4" font-size="22" textLength="39.86" lengthAdjust="spacingAndGlyphs" stroke="#000" stroke-width="0.35">WN</text>
<rect x="654.4" y="1006" width="201.1" height="24.7" fill="#D4ECFA"/>
<text x="720.75" y="1026.5" font-size="22" textLength="48.95" lengthAdjust="spacingAndGlyphs" stroke="#000" stroke-width="0.35">Tone</text>
<rect x="855.5" y="1006" width="194" height="24.7" fill="#FAC6D1"/>
<text x="932.58" y="1026.5" font-size="22" textLength="38.91" lengthAdjust="spacingAndGlyphs" stroke="#000" stroke-width="0.35">WN</text>
<rect x="1230.7" y="1005.2" width="166.3" height="21.6" fill="#FAC6D1"/>
<text x="1300.99" y="1023.4" font-size="20" textLength="35.64" lengthAdjust="spacingAndGlyphs" stroke="#000" stroke-width="0.35">WN</text>
<text x="17.5" y="1045.7" font-size="34" font-weight="bold">i</text>
<rect x="107" y="1147.66" width="27.5" height="115.94" fill="none" stroke="#555555" stroke-width="1.8"/>
<rect x="154" y="1161.9" width="27.6" height="101.7" fill="none" stroke="#555555" stroke-width="1.8"/>
<rect x="200.5" y="1130.37" width="28.1" height="133.23" fill="none" stroke="#E9B43C" stroke-width="1.8"/>
<rect x="247.5" y="1122.24" width="27.9" height="141.36" fill="none" stroke="#E9B43C" stroke-width="1.8"/>
<rect x="310.9" y="1173.09" width="27.6" height="90.51" fill="none" stroke="#555555" stroke-width="1.8"/>
<rect x="358" y="1172.07" width="27.5" height="91.53" fill="none" stroke="#555555" stroke-width="1.8"/>
<rect x="405.3" y="1152.75" width="28.2" height="110.85" fill="none" stroke="#E9B43C" stroke-width="1.8"/>
<rect x="452.3" y="1168" width="27.9" height="95.6" fill="none" stroke="#E9B43C" stroke-width="1.8"/>
<line x1="87.2" y1="1264.9" x2="87.2" y2="1059" stroke="#000" stroke-width="2.4"/>
<line x1="78.4" y1="1263.6" x2="87.2" y2="1263.6" stroke="#000" stroke-width="2.4"/>
<text x="75.9" y="1271.1" font-size="21" text-anchor="end" stroke="#000" stroke-width="0.35">0</text>
<line x1="78.4" y1="1222.92" x2="87.2" y2="1222.92" stroke="#000" stroke-width="2.4"/>
<text x="75.9" y="1230.42" font-size="21" text-anchor="end" stroke="#000" stroke-width="0.35">20</text>
<line x1="78.4" y1="1182.24" x2="87.2" y2="1182.24" stroke="#000" stroke-width="2.4"/>
<text x="75.9" y="1189.74" font-size="21" text-anchor="end" stroke="#000" stroke-width="0.35">40</text>
<line x1="78.4" y1="1141.56" x2="87.2" y2="1141.56" stroke="#000" stroke-width="2.4"/>
<text x="75.9" y="1149.06" font-size="21" text-anchor="end" stroke="#000" stroke-width="0.35">60</text>
<line x1="78.4" y1="1100.88" x2="87.2" y2="1100.88" stroke="#000" stroke-width="2.4"/>
<text x="75.9" y="1108.38" font-size="21" text-anchor="end" stroke="#000" stroke-width="0.35">80</text>
<line x1="78.4" y1="1060.2" x2="87.2" y2="1060.2" stroke="#000" stroke-width="2.4"/>
<text x="75.9" y="1067.7" font-size="21" text-anchor="end" stroke="#000" stroke-width="0.35">100</text>
<line x1="120.6" y1="1070.37" x2="167" y2="1119.19" stroke="#989898" stroke-width="1.4"/>
<line x1="120.6" y1="1104.95" x2="167" y2="1184.27" stroke="#989898" stroke-width="1.4"/>
<line x1="120.6" y1="1113.08" x2="167" y2="1192.41" stroke="#989898" stroke-width="1.4"/>
<line x1="120.6" y1="1139.53" x2="167" y2="1141.56" stroke="#989898" stroke-width="1.4"/>
<line x1="120.6" y1="1159.87" x2="167" y2="1151.73" stroke="#989898" stroke-width="1.4"/>
<line x1="120.6" y1="1159.87" x2="167" y2="1204.61" stroke="#989898" stroke-width="1.4"/>
<line x1="120.6" y1="1174.1" x2="167" y2="1157.83" stroke="#989898" stroke-width="1.4"/>
<line x1="120.6" y1="1186.31" x2="167" y2="1196.48" stroke="#989898" stroke-width="1.4"/>
<line x1="120.6" y1="1214.78" x2="167" y2="1139.53" stroke="#989898" stroke-width="1.4"/>
<line x1="215" y1="1073.42" x2="262" y2="1068.34" stroke="#989898" stroke-width="1.4"/>
<line x1="215" y1="1093.76" x2="262" y2="1078.51" stroke="#989898" stroke-width="1.4"/>
<line x1="215" y1="1117.15" x2="262" y2="1141.56" stroke="#989898" stroke-width="1.4"/>
<line x1="215" y1="1119.19" x2="262" y2="1090.71" stroke="#989898" stroke-width="1.4"/>
<line x1="215" y1="1123.25" x2="262" y2="1164.95" stroke="#989898" stroke-width="1.4"/>
<line x1="215" y1="1137.49" x2="262" y2="1092.74" stroke="#989898" stroke-width="1.4"/>
<line x1="215" y1="1145.63" x2="262" y2="1104.95" stroke="#989898" stroke-width="1.4"/>
<line x1="215" y1="1180.21" x2="262" y2="1188.34" stroke="#989898" stroke-width="1.4"/>
<line x1="215" y1="1188.34" x2="262" y2="1164.95" stroke="#989898" stroke-width="1.4"/>
<line x1="324.5" y1="1102.91" x2="371.9" y2="1166.98" stroke="#989898" stroke-width="1.4"/>
<line x1="324.5" y1="1109.63" x2="371.9" y2="1172.07" stroke="#989898" stroke-width="1.4"/>
<line x1="324.5" y1="1122.03" x2="371.9" y2="1129.36" stroke="#989898" stroke-width="1.4"/>
<line x1="324.5" y1="1130.58" x2="371.9" y2="1134.44" stroke="#989898" stroke-width="1.4"/>
<line x1="324.5" y1="1192.41" x2="371.9" y2="1137.49" stroke="#989898" stroke-width="1.4"/>
<line x1="324.5" y1="1206.65" x2="371.9" y2="1229.02" stroke="#989898" stroke-width="1.4"/>
<line x1="324.5" y1="1220.89" x2="371.9" y2="1185.29" stroke="#989898" stroke-width="1.4"/>
<line x1="324.5" y1="1229.02" x2="371.9" y2="1188.34" stroke="#989898" stroke-width="1.4"/>
<line x1="324.5" y1="1233.09" x2="371.9" y2="1190.99" stroke="#989898" stroke-width="1.4"/>
<line x1="419.2" y1="1092.74" x2="466.3" y2="1092.74" stroke="#989898" stroke-width="1.4"/>
<line x1="419.2" y1="1100.88" x2="466.3" y2="1218.85" stroke="#989898" stroke-width="1.4"/>
<line x1="419.2" y1="1123.25" x2="466.3" y2="1126.1" stroke="#989898" stroke-width="1.4"/>
<line x1="419.2" y1="1143.59" x2="466.3" y2="1164.75" stroke="#989898" stroke-width="1.4"/>
<line x1="419.2" y1="1159.05" x2="466.3" y2="1137.49" stroke="#989898" stroke-width="1.4"/>
<line x1="419.2" y1="1162.51" x2="466.3" y2="1146.85" stroke="#989898" stroke-width="1.4"/>
<line x1="419.2" y1="1170.04" x2="466.3" y2="1204.61" stroke="#989898" stroke-width="1.4"/>
<line x1="419.2" y1="1208.68" x2="466.3" y2="1200.55" stroke="#989898" stroke-width="1.4"/>
<line x1="419.2" y1="1212.75" x2="466.3" y2="1206.65" stroke="#989898" stroke-width="1.4"/>
<circle cx="120.6" cy="1070.37" r="3.5" fill="none" stroke="#4a4a4a" stroke-width="1.7"/>
<circle cx="120.6" cy="1104.95" r="3.5" fill="none" stroke="#4a4a4a" stroke-width="1.7"/>
<circle cx="120.6" cy="1113.08" r="3.5" fill="none" stroke="#4a4a4a" stroke-width="1.7"/>
<circle cx="120.6" cy="1139.53" r="3.5" fill="none" stroke="#4a4a4a" stroke-width="1.7"/>
<circle cx="120.6" cy="1159.87" r="3.5" fill="none" stroke="#4a4a4a" stroke-width="1.7"/>
<circle cx="120.6" cy="1159.87" r="3.5" fill="none" stroke="#4a4a4a" stroke-width="1.7"/>
<circle cx="120.6" cy="1174.1" r="3.5" fill="none" stroke="#4a4a4a" stroke-width="1.7"/>
<circle cx="120.6" cy="1186.31" r="3.5" fill="none" stroke="#4a4a4a" stroke-width="1.7"/>
<circle cx="120.6" cy="1214.78" r="3.5" fill="none" stroke="#4a4a4a" stroke-width="1.7"/>
<circle cx="167" cy="1119.19" r="4.3" fill="#4f4f4f"/>
<circle cx="167" cy="1184.27" r="4.3" fill="#4f4f4f"/>
<circle cx="167" cy="1192.41" r="4.3" fill="#4f4f4f"/>
<circle cx="167" cy="1141.56" r="4.3" fill="#4f4f4f"/>
<circle cx="167" cy="1151.73" r="4.3" fill="#4f4f4f"/>
<circle cx="167" cy="1204.61" r="4.3" fill="#4f4f4f"/>
<circle cx="167" cy="1157.83" r="4.3" fill="#4f4f4f"/>
<circle cx="167" cy="1196.48" r="4.3" fill="#4f4f4f"/>
<circle cx="167" cy="1139.53" r="4.3" fill="#4f4f4f"/>
<circle cx="215" cy="1073.42" r="3.5" fill="none" stroke="#E9B13A" stroke-width="1.7"/>
<circle cx="215" cy="1093.76" r="3.5" fill="none" stroke="#E9B13A" stroke-width="1.7"/>
<circle cx="215" cy="1117.15" r="3.5" fill="none" stroke="#E9B13A" stroke-width="1.7"/>
<circle cx="215" cy="1119.19" r="3.5" fill="none" stroke="#E9B13A" stroke-width="1.7"/>
<circle cx="215" cy="1123.25" r="3.5" fill="none" stroke="#E9B13A" stroke-width="1.7"/>
<circle cx="215" cy="1137.49" r="3.5" fill="none" stroke="#E9B13A" stroke-width="1.7"/>
<circle cx="215" cy="1145.63" r="3.5" fill="none" stroke="#E9B13A" stroke-width="1.7"/>
<circle cx="215" cy="1180.21" r="3.5" fill="none" stroke="#E9B13A" stroke-width="1.7"/>
<circle cx="215" cy="1188.34" r="3.5" fill="none" stroke="#E9B13A" stroke-width="1.7"/>
<circle cx="262" cy="1068.34" r="4.3" fill="#EBB229"/>
<circle cx="262" cy="1078.51" r="4.3" fill="#EBB229"/>
<circle cx="262" cy="1141.56" r="4.3" fill="#EBB229"/>
<circle cx="262" cy="1090.71" r="4.3" fill="#EBB229"/>
<circle cx="262" cy="1164.95" r="4.3" fill="#EBB229"/>
<circle cx="262" cy="1092.74" r="4.3" fill="#EBB229"/>
<circle cx="262" cy="1104.95" r="4.3" fill="#EBB229"/>
<circle cx="262" cy="1188.34" r="4.3" fill="#EBB229"/>
<circle cx="262" cy="1164.95" r="4.3" fill="#EBB229"/>
<circle cx="324.5" cy="1102.91" r="3.5" fill="none" stroke="#4a4a4a" stroke-width="1.7"/>
<circle cx="324.5" cy="1109.63" r="3.5" fill="none" stroke="#4a4a4a" stroke-width="1.7"/>
<circle cx="324.5" cy="1122.03" r="3.5" fill="none" stroke="#4a4a4a" stroke-width="1.7"/>
<circle cx="324.5" cy="1130.58" r="3.5" fill="none" stroke="#4a4a4a" stroke-width="1.7"/>
<circle cx="324.5" cy="1192.41" r="3.5" fill="none" stroke="#4a4a4a" stroke-width="1.7"/>
<circle cx="324.5" cy="1206.65" r="3.5" fill="none" stroke="#4a4a4a" stroke-width="1.7"/>
<circle cx="324.5" cy="1220.89" r="3.5" fill="none" stroke="#4a4a4a" stroke-width="1.7"/>
<circle cx="324.5" cy="1229.02" r="3.5" fill="none" stroke="#4a4a4a" stroke-width="1.7"/>
<circle cx="324.5" cy="1233.09" r="3.5" fill="none" stroke="#4a4a4a" stroke-width="1.7"/>
<circle cx="371.9" cy="1166.98" r="4.3" fill="#4f4f4f"/>
<circle cx="371.9" cy="1172.07" r="4.3" fill="#4f4f4f"/>
<circle cx="371.9" cy="1129.36" r="4.3" fill="#4f4f4f"/>
<circle cx="371.9" cy="1134.44" r="4.3" fill="#4f4f4f"/>
<circle cx="371.9" cy="1137.49" r="4.3" fill="#4f4f4f"/>
<circle cx="371.9" cy="1229.02" r="4.3" fill="#4f4f4f"/>
<circle cx="371.9" cy="1185.29" r="4.3" fill="#4f4f4f"/>
<circle cx="371.9" cy="1188.34" r="4.3" fill="#4f4f4f"/>
<circle cx="371.9" cy="1190.99" r="4.3" fill="#4f4f4f"/>
<circle cx="419.2" cy="1092.74" r="3.5" fill="none" stroke="#E9B13A" stroke-width="1.7"/>
<circle cx="419.2" cy="1100.88" r="3.5" fill="none" stroke="#E9B13A" stroke-width="1.7"/>
<circle cx="419.2" cy="1123.25" r="3.5" fill="none" stroke="#E9B13A" stroke-width="1.7"/>
<circle cx="419.2" cy="1143.59" r="3.5" fill="none" stroke="#E9B13A" stroke-width="1.7"/>
<circle cx="419.2" cy="1159.05" r="3.5" fill="none" stroke="#E9B13A" stroke-width="1.7"/>
<circle cx="419.2" cy="1162.51" r="3.5" fill="none" stroke="#E9B13A" stroke-width="1.7"/>
<circle cx="419.2" cy="1170.04" r="3.5" fill="none" stroke="#E9B13A" stroke-width="1.7"/>
<circle cx="419.2" cy="1208.68" r="3.5" fill="none" stroke="#E9B13A" stroke-width="1.7"/>
<circle cx="419.2" cy="1212.75" r="3.5" fill="none" stroke="#E9B13A" stroke-width="1.7"/>
<circle cx="466.3" cy="1092.74" r="4.3" fill="#EBB229"/>
<circle cx="466.3" cy="1218.85" r="4.3" fill="#EBB229"/>
<circle cx="466.3" cy="1126.1" r="4.3" fill="#EBB229"/>
<circle cx="466.3" cy="1164.75" r="4.3" fill="#EBB229"/>
<circle cx="466.3" cy="1137.49" r="4.3" fill="#EBB229"/>
<circle cx="466.3" cy="1146.85" r="4.3" fill="#EBB229"/>
<circle cx="466.3" cy="1204.61" r="4.3" fill="#EBB229"/>
<circle cx="466.3" cy="1200.55" r="4.3" fill="#EBB229"/>
<circle cx="466.3" cy="1206.65" r="4.3" fill="#EBB229"/>
<line x1="78.4" y1="1263.6" x2="492.4" y2="1263.6" stroke="#000" stroke-width="2.6"/>
<text x="111.83" y="1291.5" font-size="20" textLength="54.45" lengthAdjust="spacingAndGlyphs" stroke="#000" stroke-width="0.35">EYFP</text>
<text x="209.96" y="1291.5" font-size="20" textLength="69.07" lengthAdjust="spacingAndGlyphs" stroke="#000" stroke-width="0.35">eNpHR</text>
<text x="324.82" y="1288.5" font-size="20" textLength="54.77" lengthAdjust="spacingAndGlyphs" stroke="#000" stroke-width="0.35">EYFP</text>
<text x="414.46" y="1291.5" font-size="20" textLength="68.76" lengthAdjust="spacingAndGlyphs" stroke="#000" stroke-width="0.35">eNpHR</text>
<text x="39.45" y="1221.48" font-size="20.97" textLength="120.02" lengthAdjust="spacingAndGlyphs" transform="rotate(-90 39.45 1221.48)" stroke="#000" stroke-width="0.35">Freezing (%)</text>
<text x="580" y="1041" font-size="34" font-weight="bold">j</text>
<rect x="667" y="1250" width="28" height="10.2" fill="none" stroke="#555555" stroke-width="1.8"/>
<rect x="714" y="1245.92" width="29.6" height="14.28" fill="none" stroke="#555555" stroke-width="1.8"/>
<rect x="762.5" y="1256.12" width="28.5" height="4.08" fill="none" stroke="#E9B43C" stroke-width="1.8"/>
<rect x="810" y="1256.12" width="28" height="4.08" fill="none" stroke="#E9B43C" stroke-width="1.8"/>
<rect x="879.6" y="1245.92" width="27.6" height="14.28" fill="none" stroke="#555555" stroke-width="1.8"/>
<rect x="926.6" y="1245.92" width="27.9" height="14.28" fill="none" stroke="#555555" stroke-width="1.8"/>
<rect x="977.5" y="1256.12" width="28.5" height="4.08" fill="none" stroke="#E9B43C" stroke-width="1.8"/>
<rect x="1024.8" y="1248.57" width="29.2" height="11.63" fill="none" stroke="#E9B43C" stroke-width="1.8"/>
<line x1="650" y1="1241.64" x2="1064" y2="1241.64" stroke="#000" stroke-width="2.6" stroke-dasharray="2.6 3.4"/>
<line x1="649.2" y1="1261.5" x2="649.2" y2="1055" stroke="#000" stroke-width="2.4"/>
<line x1="640.5" y1="1260.2" x2="649.2" y2="1260.2" stroke="#000" stroke-width="2.4"/>
<text x="635.3" y="1267.7" font-size="21" text-anchor="end" stroke="#000" stroke-width="0.35">0</text>
<line x1="640.5" y1="1219.4" x2="649.2" y2="1219.4" stroke="#000" stroke-width="2.4"/>
<text x="635.3" y="1226.9" font-size="21" text-anchor="end" stroke="#000" stroke-width="0.35">2</text>
<line x1="640.5" y1="1178.6" x2="649.2" y2="1178.6" stroke="#000" stroke-width="2.4"/>
<text x="635.3" y="1186.1" font-size="21" text-anchor="end" stroke="#000" stroke-width="0.35">4</text>
<line x1="640.5" y1="1137.8" x2="649.2" y2="1137.8" stroke="#000" stroke-width="2.4"/>
<text x="635.3" y="1145.3" font-size="21" text-anchor="end" stroke="#000" stroke-width="0.35">6</text>
<line x1="640.5" y1="1097" x2="649.2" y2="1097" stroke="#000" stroke-width="2.4"/>
<text x="635.3" y="1104.5" font-size="21" text-anchor="end" stroke="#000" stroke-width="0.35">8</text>
<line x1="640.5" y1="1056.2" x2="649.2" y2="1056.2" stroke="#000" stroke-width="2.4"/>
<text x="635.3" y="1063.7" font-size="21" text-anchor="end" stroke="#000" stroke-width="0.35">10</text>
<line x1="682" y1="1231.64" x2="730" y2="1219.4" stroke="#989898" stroke-width="1.4"/>
<line x1="682" y1="1235.72" x2="730" y2="1227.56" stroke="#989898" stroke-width="1.4"/>
<line x1="682" y1="1250" x2="730" y2="1241.84" stroke="#989898" stroke-width="1.4"/>
<line x1="682" y1="1254.08" x2="730" y2="1245.92" stroke="#989898" stroke-width="1.4"/>
<line x1="682" y1="1256.12" x2="730" y2="1250" stroke="#989898" stroke-width="1.4"/>
<line x1="682" y1="1258.16" x2="730" y2="1254.08" stroke="#989898" stroke-width="1.4"/>
<line x1="682" y1="1260.2" x2="730" y2="1256.12" stroke="#989898" stroke-width="1.4"/>
<line x1="776.4" y1="1250" x2="824.4" y2="1250" stroke="#989898" stroke-width="1.4"/>
<line x1="776.4" y1="1254.08" x2="824.4" y2="1252.04" stroke="#989898" stroke-width="1.4"/>
<line x1="776.4" y1="1256.12" x2="824.4" y2="1254.08" stroke="#989898" stroke-width="1.4"/>
<line x1="776.4" y1="1258.16" x2="824.4" y2="1258.16" stroke="#989898" stroke-width="1.4"/>
<line x1="776.4" y1="1259.18" x2="824.4" y2="1260.2" stroke="#989898" stroke-width="1.4"/>
<line x1="893.5" y1="1204.1" x2="940" y2="1223.48" stroke="#989898" stroke-width="1.4"/>
<line x1="893.5" y1="1233.68" x2="940" y2="1235.72" stroke="#989898" stroke-width="1.4"/>
<line x1="893.5" y1="1239.8" x2="940" y2="1237.76" stroke="#989898" stroke-width="1.4"/>
<line x1="893.5" y1="1252.04" x2="940" y2="1241.84" stroke="#989898" stroke-width="1.4"/>
<line x1="893.5" y1="1254.08" x2="940" y2="1245.92" stroke="#989898" stroke-width="1.4"/>
<line x1="893.5" y1="1258.16" x2="940" y2="1250" stroke="#989898" stroke-width="1.4"/>
<line x1="893.5" y1="1260.2" x2="940" y2="1254.08" stroke="#989898" stroke-width="1.4"/>
<line x1="988.5" y1="1250" x2="1038.8" y2="1235.72" stroke="#989898" stroke-width="1.4"/>
<line x1="988.5" y1="1254.08" x2="1038.8" y2="1239.8" stroke="#989898" stroke-width="1.4"/>
<line x1="988.5" y1="1256.12" x2="1038.8" y2="1243.88" stroke="#989898" stroke-width="1.4"/>
<line x1="988.5" y1="1258.16" x2="1038.8" y2="1247.96" stroke="#989898" stroke-width="1.4"/>
<line x1="988.5" y1="1260.2" x2="1038.8" y2="1250" stroke="#989898" stroke-width="1.4"/>
<line x1="988.5" y1="1260.2" x2="1038.8" y2="1254.08" stroke="#989898" stroke-width="1.4"/>
<circle cx="682" cy="1231.64" r="3.5" fill="none" stroke="#4a4a4a" stroke-width="1.7"/>
<circle cx="682" cy="1235.72" r="3.5" fill="none" stroke="#4a4a4a" stroke-width="1.7"/>
<circle cx="682" cy="1250" r="3.5" fill="none" stroke="#4a4a4a" stroke-width="1.7"/>
<circle cx="682" cy="1254.08" r="3.5" fill="none" stroke="#4a4a4a" stroke-width="1.7"/>
<circle cx="682" cy="1256.12" r="3.5" fill="none" stroke="#4a4a4a" stroke-width="1.7"/>
<circle cx="676" cy="1258.16" r="3.5" fill="none" stroke="#4a4a4a" stroke-width="1.7"/>
<circle cx="680" cy="1260.2" r="3.5" fill="none" stroke="#4a4a4a" stroke-width="1.7"/>
<circle cx="730" cy="1219.4" r="4.2" fill="#4f4f4f"/>
<circle cx="730" cy="1227.56" r="4.2" fill="#4f4f4f"/>
<circle cx="730" cy="1241.84" r="4.2" fill="#4f4f4f"/>
<circle cx="730" cy="1245.92" r="4.2" fill="#4f4f4f"/>
<circle cx="730" cy="1250" r="4.2" fill="#4f4f4f"/>
<circle cx="730" cy="1254.08" r="4.2" fill="#4f4f4f"/>
<circle cx="730" cy="1256.12" r="4.2" fill="#4f4f4f"/>
<circle cx="776.4" cy="1250" r="3.5" fill="none" stroke="#E9B13A" stroke-width="1.7"/>
<circle cx="776.4" cy="1254.08" r="3.5" fill="none" stroke="#E9B13A" stroke-width="1.7"/>
<circle cx="764.4" cy="1256.12" r="3.5" fill="none" stroke="#E9B13A" stroke-width="1.7"/>
<circle cx="758.4" cy="1258.16" r="3.5" fill="none" stroke="#E9B13A" stroke-width="1.7"/>
<circle cx="782.4" cy="1259.18" r="3.5" fill="none" stroke="#E9B13A" stroke-width="1.7"/>
<circle cx="824.4" cy="1250" r="4.2" fill="#EBB229"/>
<circle cx="824.4" cy="1252.04" r="4.2" fill="#EBB229"/>
<circle cx="824.4" cy="1254.08" r="4.2" fill="#EBB229"/>
<circle cx="824.4" cy="1258.16" r="4.2" fill="#EBB229"/>
<circle cx="824.4" cy="1260.2" r="4.2" fill="#EBB229"/>
<circle cx="893.5" cy="1204.1" r="3.5" fill="none" stroke="#4a4a4a" stroke-width="1.7"/>
<circle cx="893.5" cy="1233.68" r="3.5" fill="none" stroke="#4a4a4a" stroke-width="1.7"/>
<circle cx="893.5" cy="1239.8" r="3.5" fill="none" stroke="#4a4a4a" stroke-width="1.7"/>
<circle cx="893.5" cy="1252.04" r="3.5" fill="none" stroke="#4a4a4a" stroke-width="1.7"/>
<circle cx="893.5" cy="1254.08" r="3.5" fill="none" stroke="#4a4a4a" stroke-width="1.7"/>
<circle cx="893.5" cy="1258.16" r="3.5" fill="none" stroke="#4a4a4a" stroke-width="1.7"/>
<circle cx="893.5" cy="1260.2" r="3.5" fill="none" stroke="#4a4a4a" stroke-width="1.7"/>
<circle cx="940" cy="1223.48" r="4.2" fill="#4f4f4f"/>
<circle cx="940" cy="1235.72" r="4.2" fill="#4f4f4f"/>
<circle cx="940" cy="1237.76" r="4.2" fill="#4f4f4f"/>
<circle cx="940" cy="1241.84" r="4.2" fill="#4f4f4f"/>
<circle cx="940" cy="1245.92" r="4.2" fill="#4f4f4f"/>
<circle cx="940" cy="1250" r="4.2" fill="#4f4f4f"/>
<circle cx="940" cy="1254.08" r="4.2" fill="#4f4f4f"/>
<circle cx="988.5" cy="1250" r="3.5" fill="none" stroke="#E9B13A" stroke-width="1.7"/>
<circle cx="988.5" cy="1254.08" r="3.5" fill="none" stroke="#E9B13A" stroke-width="1.7"/>
<circle cx="988.5" cy="1256.12" r="3.5" fill="none" stroke="#E9B13A" stroke-width="1.7"/>
<circle cx="980.5" cy="1258.16" r="3.5" fill="none" stroke="#E9B13A" stroke-width="1.7"/>
<circle cx="974.5" cy="1260.2" r="3.5" fill="none" stroke="#E9B13A" stroke-width="1.7"/>
<circle cx="994.5" cy="1260.2" r="3.5" fill="none" stroke="#E9B13A" stroke-width="1.7"/>
<circle cx="1038.8" cy="1235.72" r="4.2" fill="#EBB229"/>
<circle cx="1038.8" cy="1239.8" r="4.2" fill="#EBB229"/>
<circle cx="1038.8" cy="1243.88" r="4.2" fill="#EBB229"/>
<circle cx="1038.8" cy="1247.96" r="4.2" fill="#EBB229"/>
<circle cx="1038.8" cy="1250" r="4.2" fill="#EBB229"/>
<circle cx="1038.8" cy="1254.08" r="4.2" fill="#EBB229"/>
<line x1="640.5" y1="1260.2" x2="1064" y2="1260.2" stroke="#000" stroke-width="2.6"/>
<text x="679.69" y="1288" font-size="20" textLength="55.71" lengthAdjust="spacingAndGlyphs" stroke="#000" stroke-width="0.35">EYFP</text>
<text x="770.36" y="1288" font-size="20" textLength="68.97" lengthAdjust="spacingAndGlyphs" stroke="#000" stroke-width="0.35">eNpHR</text>
<text x="893.01" y="1285.8" font-size="20" textLength="55.08" lengthAdjust="spacingAndGlyphs" stroke="#000" stroke-width="0.35">EYFP</text>
<text x="988.55" y="1285.8" font-size="20" textLength="69.28" lengthAdjust="spacingAndGlyphs" stroke="#000" stroke-width="0.35">eNpHR</text>
<text x="612.27" y="1240.18" font-size="21.06" textLength="157.98" lengthAdjust="spacingAndGlyphs" transform="rotate(-90 612.27 1240.18)" stroke="#000" stroke-width="0.35">Flight score (AU)</text>
<line x1="970.5" y1="1206.9" x2="1047.5" y2="1206.9" stroke="#000" stroke-width="1.6"/>
<text x="1007" y="1213.02" font-size="26.5" text-anchor="middle" font-weight="bold">*</text>
<text x="1169" y="1042.5" font-size="34" font-weight="bold">k</text>
<line x1="1241.4" y1="1264.5" x2="1388" y2="1264.5" stroke="#000" stroke-width="2.6"/>
<line x1="1250.6" y1="1265.8" x2="1250.6" y2="1058.8" stroke="#000" stroke-width="2.4"/>
<line x1="1241.4" y1="1264.5" x2="1250.6" y2="1264.5" stroke="#000" stroke-width="2.4"/>
<text x="1234" y="1272" font-size="21" text-anchor="end" stroke="#000" stroke-width="0.35">0</text>
<line x1="1241.4" y1="1223.6" x2="1250.6" y2="1223.6" stroke="#000" stroke-width="2.4"/>
<text x="1234" y="1231.1" font-size="21" text-anchor="end" stroke="#000" stroke-width="0.35">1</text>
<line x1="1241.4" y1="1182.7" x2="1250.6" y2="1182.7" stroke="#000" stroke-width="2.4"/>
<text x="1234" y="1190.2" font-size="21" text-anchor="end" stroke="#000" stroke-width="0.35">2</text>
<line x1="1241.4" y1="1141.8" x2="1250.6" y2="1141.8" stroke="#000" stroke-width="2.4"/>
<text x="1234" y="1149.3" font-size="21" text-anchor="end" stroke="#000" stroke-width="0.35">3</text>
<line x1="1241.4" y1="1100.9" x2="1250.6" y2="1100.9" stroke="#000" stroke-width="2.4"/>
<text x="1234" y="1108.4" font-size="21" text-anchor="end" stroke="#000" stroke-width="0.35">4</text>
<line x1="1241.4" y1="1060" x2="1250.6" y2="1060" stroke="#000" stroke-width="2.4"/>
<text x="1234" y="1067.5" font-size="21" text-anchor="end" stroke="#000" stroke-width="0.35">5</text>
<line x1="1289.3" y1="1264.5" x2="1289.3" y2="1273.3" stroke="#000" stroke-width="2.4"/>
<line x1="1347.3" y1="1264.5" x2="1347.3" y2="1273.3" stroke="#000" stroke-width="2.4"/>
<line x1="1289.3" y1="1208.06" x2="1347.3" y2="1215.42" stroke="#E8B53E" stroke-width="1.8"/>
<line x1="1289.3" y1="1244.87" x2="1347.3" y2="1219.51" stroke="#E8B53E" stroke-width="1.8"/>
<line x1="1289.3" y1="1244.87" x2="1347.3" y2="1248.14" stroke="#E8B53E" stroke-width="1.8"/>
<line x1="1289.3" y1="1258.37" x2="1347.3" y2="1211.33" stroke="#E8B53E" stroke-width="1.8"/>
<line x1="1289.3" y1="1262.45" x2="1347.3" y2="1237.91" stroke="#E8B53E" stroke-width="1.8"/>
<line x1="1289.3" y1="1264.5" x2="1347.3" y2="1242.01" stroke="#E8B53E" stroke-width="1.8"/>
<line x1="1289.3" y1="1264.5" x2="1347.3" y2="1252.23" stroke="#E8B53E" stroke-width="1.8"/>
<line x1="1289.3" y1="1264.5" x2="1347.3" y2="1254.28" stroke="#E8B53E" stroke-width="1.8"/>
<circle cx="1289.3" cy="1208.06" r="3.4" fill="#fff" stroke="#F2CF7C" stroke-width="1.3"/>
<circle cx="1289.3" cy="1244.87" r="3.4" fill="#fff" stroke="#F2CF7C" stroke-width="1.3"/>
<circle cx="1289.3" cy="1244.87" r="3.4" fill="#fff" stroke="#F2CF7C" stroke-width="1.3"/>
<circle cx="1289.3" cy="1258.37" r="3.4" fill="#fff" stroke="#F2CF7C" stroke-width="1.3"/>
<circle cx="1289.3" cy="1262.45" r="3.4" fill="#fff" stroke="#F2CF7C" stroke-width="1.3"/>
<circle cx="1289.3" cy="1264.5" r="3.4" fill="#fff" stroke="#F2CF7C" stroke-width="1.3"/>
<circle cx="1289.3" cy="1264.5" r="3.4" fill="#fff" stroke="#F2CF7C" stroke-width="1.3"/>
<circle cx="1289.3" cy="1264.5" r="3.4" fill="#fff" stroke="#F2CF7C" stroke-width="1.3"/>
<circle cx="1347.3" cy="1215.42" r="4" fill="#EBB229"/>
<circle cx="1347.3" cy="1219.51" r="4" fill="#EBB229"/>
<circle cx="1347.3" cy="1248.14" r="4" fill="#EBB229"/>
<circle cx="1347.3" cy="1211.33" r="4" fill="#EBB229"/>
<circle cx="1347.3" cy="1237.91" r="4" fill="#EBB229"/>
<circle cx="1347.3" cy="1242.01" r="4" fill="#EBB229"/>
<circle cx="1347.3" cy="1252.23" r="4" fill="#EBB229"/>
<circle cx="1347.3" cy="1254.28" r="4" fill="#EBB229"/>
<rect x="1271.3" y="1255.1" width="36.7" height="4.4" fill="#000"/>
<rect x="1328.8" y="1237.88" width="38.4" height="4.4" fill="#000"/>
<text x="1184.63" y="1231.84" font-size="20.9" textLength="146.35" lengthAdjust="spacingAndGlyphs" transform="rotate(-90 1184.63 1231.84)" stroke="#000" stroke-width="0.35">Speed (cm/sec)</text>
<path d="M1289.3 1195 V1183.5 H1347.3 V1195" fill="none" stroke="#000" stroke-width="2"/>
<text x="1318.3" y="1173.8" font-size="18" text-anchor="middle" stroke="#000" stroke-width="0.35">ns</text>
<text x="1299" y="1294" font-size="20.5" text-anchor="end" textLength="103" lengthAdjust="spacingAndGlyphs" transform="rotate(-45 1299 1294)" stroke="#000" stroke-width="0.35">eNpHR-Off</text>
<text x="1358" y="1291" font-size="20.5" text-anchor="end" textLength="103" lengthAdjust="spacingAndGlyphs" transform="rotate(-45 1358 1291)" stroke="#000" stroke-width="0.35">eNpHR-On</text>
<text x="434.5" y="123.2" font-size="34" font-weight="bold">b</text>
<defs>
<linearGradient id="lampg" x1="0" y1="0" x2="0" y2="1"><stop offset="0" stop-color="#1e1e1e"/><stop offset="1" stop-color="#7a7a7a"/></linearGradient>
<radialGradient id="coneg" cx="0" cy="0" r="1" gradientUnits="objectBoundingBox"><stop offset="0" stop-color="#F4B400"/><stop offset="0.55" stop-color="#F6BE1A"/><stop offset="1" stop-color="#FFF3D0" stop-opacity="0"/></radialGradient>
</defs>
<text x="474.89" y="159.7" font-size="22.4" textLength="144.69" lengthAdjust="spacingAndGlyphs" stroke="#000" stroke-width="0.35">Viral injections</text>
<text x="514.7" y="191.6" font-size="22" textLength="103.9" lengthAdjust="spacingAndGlyphs" stroke="#000" stroke-width="0.35">Day 0 - 27</text>
<text x="674.59" y="187.5" font-size="21.7" textLength="71.83" lengthAdjust="spacingAndGlyphs" stroke="#000" stroke-width="0.35">Day 27</text>
<text x="809.82" y="187.7" font-size="21.9" textLength="102.76" lengthAdjust="spacingAndGlyphs" stroke="#000" stroke-width="0.35">Day 28-31</text>
<rect x="482.3" y="197.2" width="173.7" height="29.8" fill="#5ED878"/>
<rect x="656" y="197.2" width="137.3" height="29.8" fill="#BEE4FA"/>
<rect x="793.3" y="197.2" width="135" height="29.8" fill="#74B6F5"/>
<text x="700.19" y="221" font-size="21.5" textLength="44.95" lengthAdjust="spacingAndGlyphs" stroke="#000" stroke-width="0.35">OFT</text>
<text x="846.72" y="217.7" font-size="21.1" textLength="31.27" lengthAdjust="spacingAndGlyphs" stroke="#000" stroke-width="0.35">FC</text>
<line x1="482.3" y1="227" x2="562.5" y2="227" stroke="#000" stroke-width="2.6"/>
<line x1="567.5" y1="227" x2="928.3" y2="227" stroke="#000" stroke-width="2.6"/>
<line x1="559.4" y1="222.4" x2="564.1" y2="234.1" stroke="#000" stroke-width="2"/>
<line x1="567.6" y1="222" x2="571.5" y2="231.9" stroke="#000" stroke-width="2"/>
<path d="M477.5 184.3 L487 184.3 L482.3 189.5 Z" fill="#F2C53D"/>
<path d="M475.4 184.3 L482.3 193.8 L489.7 184.3" fill="none" stroke="#000" stroke-width="2.2" stroke-linejoin="miter"/>
<path d="M594.5 241.4 L604 241.4 L599.2 236.5 Z" fill="#F2C53D"/>
<path d="M592.3 241.4 L599.2 231.9 L606.6 241.4" fill="none" stroke="#000" stroke-width="2.2"/>
<text x="442.69" y="258.4" font-size="22.3" textLength="173.5" lengthAdjust="spacingAndGlyphs" stroke="#000" stroke-width="0.35">Fiber placements</text>
<g transform="translate(755.2 137.7) scale(1)">
<defs><linearGradient id="coneb1" gradientUnits="userSpaceOnUse" x1="0" y1="0" x2="-16" y2="24"><stop offset="0" stop-color="#F6B800"/><stop offset="0.55" stop-color="#F8BE10"/><stop offset="1" stop-color="#FFF0C8" stop-opacity="0"/></linearGradient><linearGradient id="bodyb1" gradientUnits="userSpaceOnUse" x1="13" y1="-22" x2="2" y2="-3"><stop offset="0" stop-color="#161616"/><stop offset="1" stop-color="#6c6c70"/></linearGradient></defs>
<path d="M0 0 L-28 14 L-3 32 Z" fill="url(#coneb1)"/>
<path d="M9.4 -24.3 L17.6 -18.1 L5.6 -1.0 L2.2 0.3 L-0.6 -1.4 L-2.3 -7.1 Z" fill="url(#bodyb1)"/>
</g>
<g transform="translate(882.8 137.7) scale(1)">
<defs><linearGradient id="coneb2" gradientUnits="userSpaceOnUse" x1="0" y1="0" x2="-16" y2="24"><stop offset="0" stop-color="#F6B800"/><stop offset="0.55" stop-color="#F8BE10"/><stop offset="1" stop-color="#FFF0C8" stop-opacity="0"/></linearGradient><linearGradient id="bodyb2" gradientUnits="userSpaceOnUse" x1="13" y1="-22" x2="2" y2="-3"><stop offset="0" stop-color="#161616"/><stop offset="1" stop-color="#6c6c70"/></linearGradient></defs>
<path d="M0 0 L-28 14 L-3 32 Z" fill="url(#coneb2)"/>
<path d="M9.4 -24.3 L17.6 -18.1 L5.6 -1.0 L2.2 0.3 L-0.6 -1.4 L-2.3 -7.1 Z" fill="url(#bodyb2)"/>
</g>
<line x1="793.3" y1="228" x2="483.4" y2="289.3" stroke="#7FA3DC" stroke-width="1.6"/>
<line x1="928.3" y1="228" x2="935" y2="289.3" stroke="#7FA3DC" stroke-width="1.6"/>
<rect x="483.4" y="289.3" width="451.6" height="134" fill="none" stroke="#8DB3EA" stroke-width="1.8"/>
<text x="516.04" y="315.2" font-size="21.3" textLength="57.5" lengthAdjust="spacingAndGlyphs" stroke="#000" stroke-width="0.35">Day 1</text>
<text x="622.26" y="317.4" font-size="22" textLength="60.04" lengthAdjust="spacingAndGlyphs" stroke="#000" stroke-width="0.35">Day 2</text>
<text x="730.85" y="317.4" font-size="22" textLength="60.43" lengthAdjust="spacingAndGlyphs" stroke="#000" stroke-width="0.35">Day 3</text>
<text x="838.38" y="317.4" font-size="21.8" textLength="59.56" lengthAdjust="spacingAndGlyphs" stroke="#000" stroke-width="0.35">Day 4</text>
<rect x="490.1" y="321.2" width="99.9" height="28.2" fill="#3A3A3A"/>
<rect x="598" y="321.5" width="99.9" height="29.2" fill="#BDBDBD"/>
<rect x="707.5" y="321.5" width="98.1" height="29.2" fill="#BDBDBD"/>
<rect x="815.8" y="322.4" width="100.8" height="28.3" fill="#3A3A3A"/>
<text x="508.47" y="340.6" font-size="16" textLength="63.48" lengthAdjust="spacingAndGlyphs" fill="#EDEDED" stroke="#EDEDED" stroke-width="0.35">4 X SCS</text>
<text x="604.75" y="342.9" font-size="16" textLength="89.91" lengthAdjust="spacingAndGlyphs" fill="#1a1a1a" stroke="#1a1a1a" stroke-width="0.35">5 X SCS-US</text>
<text x="712.65" y="342.9" font-size="16" textLength="90.01" lengthAdjust="spacingAndGlyphs" fill="#1a1a1a" stroke="#1a1a1a" stroke-width="0.35">5 X SCS-US</text>
<text x="834.98" y="345" font-size="16" textLength="62.05" lengthAdjust="spacingAndGlyphs" fill="#EDEDED" stroke="#EDEDED" stroke-width="0.35">4 X SCS</text>
<path d="M490.3 358.5 V366.1 H589.7 V358.5" fill="none" stroke="#333" stroke-width="1.8"/>
<path d="M599.3 358.5 V366.1 H807.7 V358.5" fill="none" stroke="#333" stroke-width="1.8"/>
<path d="M817.3 358.5 V366.1 H918.7 V358.5" fill="none" stroke="#333" stroke-width="1.8"/>
<text x="487" y="386.9" font-size="20" textLength="40.25" lengthAdjust="spacingAndGlyphs" stroke="#000" stroke-width="0.35">Pre-</text>
<text x="487.87" y="411" font-size="20.6" textLength="111.24" lengthAdjust="spacingAndGlyphs" stroke="#000" stroke-width="0.35">conditioning</text>
<text x="617.73" y="386.9" font-size="20.6" textLength="168.65" lengthAdjust="spacingAndGlyphs" stroke="#000" stroke-width="0.35">Flight conditioning</text>
<text x="656.44" y="411.5" font-size="20.6" textLength="92.19" lengthAdjust="spacingAndGlyphs" stroke="#000" stroke-width="0.35">(SCS-FC)</text>
<text x="756.84" y="412" font-size="21.2" textLength="68.33" lengthAdjust="spacingAndGlyphs" stroke="#000" stroke-width="0.35">0.9 mA</text>
<text x="837.28" y="386.9" font-size="20.4" textLength="59.91" lengthAdjust="spacingAndGlyphs" stroke="#000" stroke-width="0.35">Recall</text>
<text x="13.5" y="136.5" font-size="34" font-weight="bold" textLength="17" lengthAdjust="spacingAndGlyphs">a</text>
<text x="63.9" y="69.1" font-size="20" textLength="211.8" lengthAdjust="spacingAndGlyphs" stroke="#000" stroke-width="0.35">AAV-DIO-eNpHR-EYFP</text>
<text x="286.66" y="69.1" font-size="20" textLength="18.64" lengthAdjust="spacingAndGlyphs" stroke="#000" stroke-width="0.35">or</text>
<text x="63.9" y="91" font-size="20" textLength="140.16" lengthAdjust="spacingAndGlyphs" stroke="#000" stroke-width="0.35">AAV-DIO-EYFP</text>
<path d="M138.9 151.9 C141.1 151.78 142.45 148.5 145.5 146.8 C148.55 145.1 152.08 142.43 157.2 141.7 C162.32 140.97 169.38 140.93 176.2 142.4 C183.02 143.87 190.8 146.72 198.1 150.5 C205.4 154.28 213.92 159.75 220 165.1 C226.08 170.45 230.7 176.27 234.6 182.6 C238.5 188.93 241.68 196.77 243.4 203.1 C245.12 209.43 245.02 215.25 244.9 220.6 C244.78 225.95 243.85 230.63 242.7 235.2 C241.55 239.77 245.12 243.53 238 248 C230.88 252.47 216.33 257.5 200 262 C183.67 266.5 157.5 268.67 140 275 C122.5 281.33 104.85 297.05 95 300 C85.15 302.95 84.73 294.7 80.9 292.7 C77.07 290.7 74.88 290.02 72 288 C69.12 285.98 66.95 284.03 63.6 280.6 C60.25 277.17 55.3 272.28 51.9 267.4 C48.5 262.52 45.63 257.15 43.2 251.3 C40.77 245.45 38.53 238.87 37.3 232.3 C36.07 225.73 35.55 218.47 35.8 211.9 C36.05 205.33 36.6 199.23 38.8 192.9 C41 186.57 44.38 179.75 49 173.9 C53.62 168.05 59.92 162.32 66.5 157.8 C73.08 153.28 80.93 149.23 88.5 146.8 C96.07 144.37 105.65 143.5 111.9 143.2 C118.15 142.9 122.6 144.28 126 145 C129.4 145.72 130.15 146.35 132.3 147.5 C134.45 148.65 136.7 152.02 138.9 151.9 Z" fill="#D9D9D9" stroke="#8E8E8E" stroke-width="1.3"/>
<path d="M117.7 185.5 C115.75 185.38 110.13 183.82 106 184.8 C101.87 185.78 96.32 187.87 92.9 191.4 C89.48 194.93 87.22 201.62 85.5 206 C83.78 210.38 81.62 215.27 82.6 217.7 C83.58 220.13 88.72 219.13 91.4 220.6 C94.08 222.07 97.23 224.07 98.7 226.5 C100.17 228.93 100.2 232.28 100.2 235.2 C100.2 238.12 99.43 241.32 98.7 244 C97.97 246.68 95.95 249.53 95.8 251.3 C95.65 253.07 97.47 254.05 97.8 254.6" fill="none" stroke="#9A9A9A" stroke-width="1.2"/>
<path d="M158.6 188.5 C160.55 187.77 166.4 184.1 170.3 184.1 C174.2 184.1 178.33 186.07 182 188.5 C185.67 190.93 190.1 195.05 192.3 198.7 C194.5 202.35 195.45 207.48 195.2 210.4 C194.95 213.32 193.23 214.73 190.8 216.2 C188.37 217.67 183.28 217.48 180.6 219.2 C177.92 220.92 175.43 223.83 174.7 226.5 C173.97 229.17 175.72 232.95 176.2 235.2 C176.68 237.45 177.37 239.2 177.6 240" fill="none" stroke="#9A9A9A" stroke-width="1.2"/>
<path d="M158.6 188.5 C158.12 190.45 156.3 195.33 155.7 200.2 C155.1 205.07 155 212.35 155 217.7 C155 223.05 156.03 227.75 155.7 232.3 C155.37 236.85 153.45 242.88 153 245" fill="none" stroke="#9A9A9A" stroke-width="1.2"/>
<path d="M117.7 185.5 C118.07 188.43 119.42 196.52 119.9 203.1 C120.38 209.68 120.35 218.67 120.6 225 C120.85 231.33 120.9 237.45 121.4 241.1 C121.9 244.75 123.23 245.93 123.6 246.9" fill="none" stroke="#9A9A9A" stroke-width="1.2"/>
<path d="M117.7 185.5 C119.42 183.92 125.03 178.18 128 176 C130.97 173.82 133.68 173.15 135.5 172.4 C137.32 171.65 137.65 171.5 138.9 171.5 C140.15 171.5 141.15 171.48 143 172.4 C144.85 173.32 147.4 174.32 150 177 C152.6 179.68 157.17 186.58 158.6 188.5" fill="none" stroke="#9A9A9A" stroke-width="1.2"/>
<line x1="138.9" y1="151.9" x2="138.9" y2="254.3" stroke="#9A9A9A" stroke-width="1.1"/>
<line x1="120.6" y1="206" x2="133" y2="206" stroke="#9A9A9A" stroke-width="1.1"/>
<line x1="140" y1="206" x2="151" y2="206" stroke="#9A9A9A" stroke-width="1.1"/>
<line x1="120.6" y1="225" x2="133" y2="225" stroke="#9A9A9A" stroke-width="1.1"/>
<line x1="140" y1="225" x2="151" y2="225" stroke="#9A9A9A" stroke-width="1.1"/>
<line x1="120.6" y1="239.6" x2="133" y2="239.6" stroke="#9A9A9A" stroke-width="1.1"/>
<line x1="140" y1="239.6" x2="151" y2="239.6" stroke="#9A9A9A" stroke-width="1.1"/>
<path d="M77.7 332.9 C77.7 325.38 77.7 317.37 79.3 310.4 C80.9 303.43 83.85 296.67 87.3 291.1 C90.75 285.53 94.25 281.85 100 277 C105.75 272.15 114.53 266 121.8 262 C129.07 258 136.33 255.68 143.6 253 C150.87 250.32 158.15 247.93 165.4 245.9 C172.65 243.87 179.85 242.02 187.1 240.8 C194.35 239.58 204.05 238.72 208.9 238.6 C213.75 238.48 213.53 238.77 216.2 240.1 C218.87 241.43 222 246.23 224.9 246.6 C227.8 246.97 230.22 243.32 233.6 242.3 C236.98 241.28 239.63 240.5 245.2 240.5 C250.77 240.5 259.73 241.03 267 242.3 C274.27 243.57 281.53 245.68 288.8 248.1 C296.07 250.52 303.33 252.93 310.6 256.8 C317.87 260.67 325.87 265.98 332.4 271.3 C338.93 276.62 345.2 283.92 349.8 288.7 C354.4 293.48 357.1 295.32 360 300 C362.9 304.68 365.07 310.25 367.2 316.8 C369.33 323.35 371.73 332.33 372.8 339.3 C373.87 346.27 373.87 351.37 373.6 358.6 C373.33 365.83 372.53 375.2 371.2 382.7 C369.87 390.2 367.87 397.43 365.6 403.6 C363.33 409.77 361.08 415.13 357.6 419.7 C354.12 424.27 349.53 428.32 344.7 431 C339.87 433.68 333.38 434.87 328.6 435.8 C323.82 436.73 320.1 436.68 316 436.6 C311.9 436.52 307.58 436.15 304 435.3 C300.42 434.45 297.42 433.13 294.5 431.5 C291.58 429.87 288.67 427.58 286.5 425.5 C284.33 423.42 283.25 419.95 281.5 419 C279.75 418.05 278.35 419.05 276 419.8 C273.65 420.55 270.32 421.87 267.4 423.5 C264.48 425.13 262.07 427.92 258.5 429.6 C254.93 431.28 250.58 432.75 246 433.6 C241.42 434.45 236.33 434.53 231 434.7 C225.67 434.87 219.33 434.88 214 434.6 C208.67 434.32 202.92 434.1 199 433 C195.08 431.9 193 429.78 190.5 428 C188 426.22 186.33 423.3 184 422.3 C181.67 421.3 178.42 420.97 176.5 422 C174.58 423.03 174.5 426.23 172.5 428.5 C170.5 430.77 167.87 434.05 164.5 435.6 C161.13 437.15 156.3 438.03 152.3 437.8 C148.3 437.57 143.82 435.75 140.5 434.2 C137.18 432.65 136.97 431.62 132.4 428.5 C127.83 425.38 119 420.42 113.1 415.5 C107.2 410.58 101.57 405.25 97 399 C92.43 392.75 88.65 385.25 85.7 378 C82.75 370.75 80.63 363.02 79.3 355.5 C77.97 347.98 77.7 340.42 77.7 332.9 Z" fill="#D9D9D9" stroke="#8E8E8E" stroke-width="1.3"/>
<line x1="224.9" y1="246.6" x2="224.9" y2="283" stroke="#9A9A9A" stroke-width="1.2"/>
<path d="M127.6 408.5 C125.98 405.75 120.32 397.62 117.9 392 C115.48 386.38 114.08 381.47 113.1 374.8 C112.12 368.13 111.28 358.83 112 352 C112.72 345.17 114.57 339.75 117.4 333.8 C120.23 327.85 123.43 322.6 129 316.3 C134.57 310 143.53 301.8 150.8 296 C158.07 290.2 166.55 284.88 172.6 281.5 C178.65 278.12 182.25 277.03 187.1 275.7 C191.95 274.37 198.07 273.02 201.7 273.5 C205.33 273.98 206.48 276.78 208.9 278.6 C211.32 280.42 213.53 283.2 216.2 284.4 C218.87 285.6 221.75 285.8 224.9 285.8 C228.05 285.8 231.72 285.85 235.1 284.4 C238.48 282.95 242.78 278.55 245.2 277.1 C247.62 275.65 245.97 275.7 249.6 275.7 C253.23 275.7 260.47 275.65 267 277.1 C273.53 278.55 281.53 281.25 288.8 284.4 C296.07 287.55 304.55 291.65 310.6 296 C316.65 300.35 320.98 305.42 325.1 310.5 C329.22 315.58 332.9 320.62 335.3 326.5 C337.7 332.38 339 339.1 339.5 345.8 C340 352.5 339.05 359.2 338.3 366.7 C337.55 374.2 336.62 383.83 335 390.8 C333.38 397.77 329.67 405.55 328.6 408.5" fill="none" stroke="#9A9A9A" stroke-width="1.2"/>
<path d="M118.9 336.7 C121.8 333.3 129.77 322.83 136.3 316.3 C142.83 309.77 150.83 303.07 158.1 297.5 C165.37 291.93 174.08 285.82 179.9 282.9 C185.72 279.98 188.88 280 193 280 C197.12 280 200.73 280.72 204.6 282.9 C208.47 285.08 212.82 291.03 216.2 293.1 C219.58 295.17 222 295.3 224.9 295.3 C227.8 295.3 230.22 294.43 233.6 293.1 C236.98 291.77 240.83 289 245.2 287.3 C249.57 285.6 254.95 283.5 259.8 282.9 C264.65 282.3 268.25 282 274.3 283.7 C280.35 285.4 288.83 288.87 296.1 293.1 C303.37 297.33 311.85 303.28 317.9 309.1 C323.95 314.92 329.98 324.85 332.4 328" fill="none" stroke="#9A9A9A" stroke-width="1.2"/>
<path d="M116.3 370 C117.63 372.13 121.08 379.05 124.3 382.8 C127.52 386.55 133.72 390.88 135.6 392.5" fill="none" stroke="#9A9A9A" stroke-width="1.2"/>
<path d="M342 352 C342.33 355.33 344.33 365.33 344 372 C343.67 378.67 341.83 386.67 340 392 C338.17 397.33 334.17 402 333 404" fill="none" stroke="#9A9A9A" stroke-width="1.2"/>
<path d="M150.2 372.2 C150.08 371.58 149.87 370.33 149.5 368.5 C149.13 366.67 148.85 363.4 148 361.2 C147.15 359 145.62 357.5 144.4 355.3 C143.18 353.1 141.8 350.67 140.7 348 C139.6 345.33 138.53 341.98 137.8 339.3 C137.07 336.62 136.67 333.85 136.3 331.9 C135.93 329.95 135.1 328.82 135.6 327.6 C136.1 326.38 138.45 325.45 139.3 324.6 C140.15 323.75 140.22 322.5 140.7 322.5 C141.18 322.5 141.72 325.18 142.2 324.6 C142.68 324.02 143 319.23 143.6 319 C144.2 318.77 145.18 321.77 145.8 323.2 C146.42 324.63 146.57 326.83 147.3 327.6 C148.03 328.37 148.87 327.57 150.2 327.8 C151.53 328.03 153.72 328.55 155.3 329 C156.88 329.45 158.72 329.77 159.7 330.5 C160.68 331.23 161.57 332.43 161.2 333.4 C160.83 334.37 158.97 335.32 157.5 336.3 C156.03 337.28 153.62 338.2 152.4 339.3 C151.18 340.4 150.68 341.32 150.2 342.9 C149.72 344.48 149.37 346.97 149.5 348.8 C149.63 350.63 150.03 351.83 151 353.9 C151.97 355.97 153.35 358.77 155.3 361.2 C157.25 363.63 159.88 365.7 162.7 368.5 C165.52 371.3 169.4 375.2 172.2 378 C175 380.8 177.68 382.98 179.5 385.3 C181.32 387.62 182.73 389.58 183.1 391.9 C183.47 394.22 182.92 397.73 181.7 399.2 C180.48 400.67 178.25 401.07 175.8 400.7 C173.35 400.33 169.43 398.22 167 397 C164.57 395.78 163.38 394.98 161.2 393.4 C159.02 391.82 155.12 388.48 153.9 387.5" fill="none" stroke="#9A9A9A" stroke-width="1.3"/>
<path d="M316.3 341.4 C316.67 341.05 318.25 340.15 318.5 339.3 C318.75 338.45 318.42 337.53 317.8 336.3 C317.18 335.07 315.53 333.37 314.8 331.9 C314.07 330.43 313.88 328.83 313.4 327.5 C312.92 326.17 312.52 324.38 311.9 323.9 C311.28 323.42 310.43 324.85 309.7 324.6 C308.97 324.35 308.47 321.78 307.5 322.4 C306.53 323.02 305.48 326.95 303.9 328.3 C302.32 329.65 300.08 329.9 298 330.5 C295.92 331.1 292.98 331.48 291.4 331.9 C289.82 332.32 288.37 332.38 288.5 333 C288.63 333.62 290.85 334.55 292.2 335.6 C293.55 336.65 295.38 337.83 296.6 339.3 C297.82 340.77 298.9 342.45 299.5 344.4 C300.1 346.35 300.32 348.93 300.2 351 C300.08 353.07 299.65 354.85 298.8 356.8 C297.95 358.75 296.68 360.75 295.1 362.7 C293.52 364.65 291.5 366.55 289.3 368.5 C287.1 370.45 284.35 372.33 281.9 374.4 C279.45 376.47 276.78 378.47 274.6 380.9 C272.42 383.33 269.9 386.68 268.8 389 C267.7 391.32 267.27 393.33 268 394.8 C268.73 396.27 270.88 397.43 273.2 397.8 C275.52 398.17 279.22 397.62 281.9 397 C284.58 396.38 287.22 395.2 289.3 394.1 C291.38 393 293.55 391.02 294.4 390.4" fill="none" stroke="#9A9A9A" stroke-width="1.3"/>
<path d="M114.4 370.7 C115.33 372.58 117.73 377.95 120 382 C122.27 386.05 125.33 391.17 128 395 C130.67 398.83 134.12 402.5 136 405 C137.88 407.5 138.75 409.17 139.3 410" fill="none" stroke="#9A9A9A" stroke-width="1.2"/>
<path d="M315.6 386.8 C315.75 388.17 316.38 391.97 316.5 395 C316.62 398.03 316.33 403.33 316.3 405" fill="none" stroke="#9A9A9A" stroke-width="1.2"/>
<line x1="120.1" y1="102.3" x2="132.1" y2="102.3" stroke="#000" stroke-width="2.2"/>
<line x1="126.1" y1="102.3" x2="126.1" y2="110" stroke="#000" stroke-width="2.2"/>
<rect x="120.6" y="110" width="11" height="61.4" fill="#fff" stroke="#000" stroke-width="1.5"/>
<rect x="121.4" y="143.8" width="9.4" height="26.8" fill="#2FA343"/>
<line x1="127.1" y1="126.5" x2="130.8" y2="126.5" stroke="#000" stroke-width="1.1"/>
<line x1="128.6" y1="131" x2="130.8" y2="131" stroke="#000" stroke-width="1.1"/>
<line x1="127.1" y1="135.5" x2="130.8" y2="135.5" stroke="#000" stroke-width="1.1"/>
<line x1="128.6" y1="140" x2="130.8" y2="140" stroke="#000" stroke-width="1.1"/>
<line x1="127.1" y1="144.5" x2="130.8" y2="144.5" stroke="#000" stroke-width="1.1"/>
<line x1="128.6" y1="149" x2="130.8" y2="149" stroke="#000" stroke-width="1.1"/>
<line x1="127.1" y1="153.5" x2="130.8" y2="153.5" stroke="#000" stroke-width="1.1"/>
<line x1="128.6" y1="158" x2="130.8" y2="158" stroke="#000" stroke-width="1.1"/>
<line x1="127.1" y1="162.5" x2="130.8" y2="162.5" stroke="#000" stroke-width="1.1"/>
<line x1="128.6" y1="167" x2="130.8" y2="167" stroke="#000" stroke-width="1.1"/>
<line x1="141.8" y1="102.3" x2="153.8" y2="102.3" stroke="#000" stroke-width="2.2"/>
<line x1="147.8" y1="102.3" x2="147.8" y2="110" stroke="#000" stroke-width="2.2"/>
<rect x="142.3" y="110" width="11" height="61.4" fill="#fff" stroke="#000" stroke-width="1.5"/>
<rect x="143.1" y="143.8" width="9.4" height="26.8" fill="#2FA343"/>
<line x1="148.8" y1="126.5" x2="152.5" y2="126.5" stroke="#000" stroke-width="1.1"/>
<line x1="150.3" y1="131" x2="152.5" y2="131" stroke="#000" stroke-width="1.1"/>
<line x1="148.8" y1="135.5" x2="152.5" y2="135.5" stroke="#000" stroke-width="1.1"/>
<line x1="150.3" y1="140" x2="152.5" y2="140" stroke="#000" stroke-width="1.1"/>
<line x1="148.8" y1="144.5" x2="152.5" y2="144.5" stroke="#000" stroke-width="1.1"/>
<line x1="150.3" y1="149" x2="152.5" y2="149" stroke="#000" stroke-width="1.1"/>
<line x1="148.8" y1="153.5" x2="152.5" y2="153.5" stroke="#000" stroke-width="1.1"/>
<line x1="150.3" y1="158" x2="152.5" y2="158" stroke="#000" stroke-width="1.1"/>
<line x1="148.8" y1="162.5" x2="152.5" y2="162.5" stroke="#000" stroke-width="1.1"/>
<line x1="150.3" y1="167" x2="152.5" y2="167" stroke="#000" stroke-width="1.1"/>
<line x1="126.2" y1="171.4" x2="126.2" y2="226.5" stroke="#000" stroke-width="2"/>
<line x1="148" y1="171.4" x2="148" y2="226.5" stroke="#000" stroke-width="2"/>
<g transform="translate(79.6 297.2) rotate(54.72)">
<line x1="-9" y1="0" x2="0" y2="0" stroke="#000" stroke-width="2.2"/>
<line x1="-9" y1="-5.5" x2="-9" y2="5.5" stroke="#000" stroke-width="2.6"/>
<rect x="0" y="-4.25" width="59.9" height="8.5" fill="#fff" stroke="#000" stroke-width="1.4"/>
<rect x="31.15" y="-3.55" width="28.05" height="7.1" fill="#FBF2B3"/>
<line x1="13.18" y1="3.55" x2="13.18" y2="1.05" stroke="#000" stroke-width="1"/>
<line x1="18.57" y1="3.55" x2="18.57" y2="2.05" stroke="#000" stroke-width="1"/>
<line x1="23.96" y1="3.55" x2="23.96" y2="1.05" stroke="#000" stroke-width="1"/>
<line x1="29.35" y1="3.55" x2="29.35" y2="2.05" stroke="#000" stroke-width="1"/>
<line x1="34.74" y1="3.55" x2="34.74" y2="1.05" stroke="#000" stroke-width="1"/>
<line x1="40.14" y1="3.55" x2="40.14" y2="2.05" stroke="#000" stroke-width="1"/>
<line x1="45.53" y1="3.55" x2="45.53" y2="1.05" stroke="#000" stroke-width="1"/>
<line x1="50.92" y1="3.55" x2="50.92" y2="2.05" stroke="#000" stroke-width="1"/>
<line x1="56.31" y1="3.55" x2="56.31" y2="1.05" stroke="#000" stroke-width="1"/>
</g>
<line x1="114.2" y1="346.1" x2="146.5" y2="386.5" stroke="#000" stroke-width="1.8"/>
<g transform="translate(372.8 295.9) rotate(124.85)">
<line x1="-9" y1="0" x2="0" y2="0" stroke="#000" stroke-width="2.2"/>
<line x1="-9" y1="-5.5" x2="-9" y2="5.5" stroke="#000" stroke-width="2.6"/>
<rect x="0" y="-4.25" width="61.78" height="8.5" fill="#fff" stroke="#000" stroke-width="1.4"/>
<rect x="32.12" y="-3.55" width="28.95" height="7.1" fill="#FBF2B3"/>
<line x1="13.59" y1="3.55" x2="13.59" y2="1.05" stroke="#000" stroke-width="1"/>
<line x1="19.15" y1="3.55" x2="19.15" y2="2.05" stroke="#000" stroke-width="1"/>
<line x1="24.71" y1="3.55" x2="24.71" y2="1.05" stroke="#000" stroke-width="1"/>
<line x1="30.27" y1="3.55" x2="30.27" y2="2.05" stroke="#000" stroke-width="1"/>
<line x1="35.83" y1="3.55" x2="35.83" y2="1.05" stroke="#000" stroke-width="1"/>
<line x1="41.39" y1="3.55" x2="41.39" y2="2.05" stroke="#000" stroke-width="1"/>
<line x1="46.95" y1="3.55" x2="46.95" y2="1.05" stroke="#000" stroke-width="1"/>
<line x1="52.51" y1="3.55" x2="52.51" y2="2.05" stroke="#000" stroke-width="1"/>
<line x1="58.07" y1="3.55" x2="58.07" y2="1.05" stroke="#000" stroke-width="1"/>
</g>
<line x1="337.5" y1="346.6" x2="302.9" y2="391" stroke="#000" stroke-width="1.8"/>
<path d="M133 380 C133.92 378.08 135.33 376.42 137 375.5 C138.67 374.58 141 374.25 143 374.5 C145 374.75 147.17 375.75 149 377 C150.83 378.25 152.75 380 154 382 C155.25 384 156.25 386.75 156.5 389 C156.75 391.25 156.58 393.83 155.5 395.5 C154.42 397.17 152.25 398.5 150 399 C147.75 399.5 144.42 399.33 142 398.5 C139.58 397.67 137.25 395.92 135.5 394 C133.75 392.08 131.92 389.33 131.5 387 C131.08 384.67 132.08 381.92 133 380 Z" fill="#C9F5D3" stroke="#1f3d26" stroke-width="1.3"/>
<path d="M137.5 388 q1 -6 6 -7 M139 391 q4 4 9 -1 M146 384 q4 3 3 9" fill="none" stroke="#1a1a1a" stroke-width="1.2"/>
<path d="M296 398 C295.08 396.25 295.17 394 295.5 392 C295.83 390 297.08 387.83 298 386 C298.92 384.17 299.83 382.25 301 381 C302.17 379.75 303.67 378.67 305 378.5 C306.33 378.33 307.83 378.92 309 380 C310.17 381.08 311.17 383.17 312 385 C312.83 386.83 313.83 388.92 314 391 C314.17 393.08 314 395.67 313 397.5 C312 399.33 310 401.17 308 402 C306 402.83 303 403.17 301 402.5 C299 401.83 296.92 399.75 296 398 Z" fill="#C9F5D3" stroke="none" stroke-width="1"/>
<path d="M298 389 q-3 5 -1 10 M297.5 401 q6 3 12 -1 M311 386 q3 6 1 13 M314.5 386 q2 7 -1 14 M305 395 v6 M300 396 q5 -2 10 0" fill="none" stroke="#1a2a1e" stroke-width="1.2"/>
<g transform="translate(167.5 365.5) scale(1)">
<defs><linearGradient id="conea1" gradientUnits="userSpaceOnUse" x1="0" y1="0" x2="-16" y2="24"><stop offset="0" stop-color="#F6B800"/><stop offset="0.55" stop-color="#F8BE10"/><stop offset="1" stop-color="#FFF0C8" stop-opacity="0"/></linearGradient><linearGradient id="bodya1" gradientUnits="userSpaceOnUse" x1="13" y1="-22" x2="2" y2="-3"><stop offset="0" stop-color="#161616"/><stop offset="1" stop-color="#6c6c70"/></linearGradient></defs>
<path d="M0 0 L-28 14 L-3 32 Z" fill="url(#conea1)"/>
<path d="M9.4 -24.3 L17.6 -18.1 L5.6 -1.0 L2.2 0.3 L-0.6 -1.4 L-2.3 -7.1 Z" fill="url(#bodya1)"/>
</g>
<g transform="translate(305.5 365.5) scale(1)">
<defs><linearGradient id="conea2" gradientUnits="userSpaceOnUse" x1="0" y1="0" x2="-16" y2="24"><stop offset="0" stop-color="#F6B800"/><stop offset="0.55" stop-color="#F8BE10"/><stop offset="1" stop-color="#FFF0C8" stop-opacity="0"/></linearGradient><linearGradient id="bodya2" gradientUnits="userSpaceOnUse" x1="13" y1="-22" x2="2" y2="-3"><stop offset="0" stop-color="#161616"/><stop offset="1" stop-color="#6c6c70"/></linearGradient></defs>
<path d="M0 0 L-28 14 L-3 32 Z" fill="url(#conea2)"/>
<path d="M9.4 -24.3 L17.6 -18.1 L5.6 -1.0 L2.2 0.3 L-0.6 -1.4 L-2.3 -7.1 Z" fill="url(#bodya2)"/>
</g>
<path d="M128.7 230 C128.25 234 126.28 243.33 126 254 C125.72 264.67 126 281.92 127 294 C128 306.08 129.92 315.72 132 326.5 C134.08 337.28 137.28 349.03 139.5 358.7 C141.72 368.37 144.33 380.2 145.3 384.5" fill="none" stroke="#111" stroke-width="1.6"/>
<path d="M147.7 230 C149.17 232.67 151.02 237.95 156.5 246 C161.98 254.05 172.55 268.63 180.6 278.3 C188.65 287.97 194.9 293.82 204.8 304 C214.7 314.18 228.8 329.07 240 339.4 C251.2 349.73 261.52 357.4 272 366 C282.48 374.6 297.75 386.83 302.9 391" fill="none" stroke="#111" stroke-width="1.6"/>
<circle cx="128.7" cy="230.1" r="3.1" fill="#45C4A8" stroke="#16503f" stroke-width="1.1"/>
<circle cx="147.7" cy="230.1" r="3.1" fill="#45C4A8" stroke="#16503f" stroke-width="1.1"/>
<text x="95.25" y="203.7" font-size="17.6" textLength="23.69" lengthAdjust="spacingAndGlyphs" stroke="#000" stroke-width="0.35">PL</text>
<text x="101.9" y="221.8" font-size="17.6" textLength="16.68" lengthAdjust="spacingAndGlyphs" stroke="#000" stroke-width="0.35">IL</text>
<text x="88.3" y="242.8" font-size="17.6" textLength="27.78" lengthAdjust="spacingAndGlyphs" stroke="#000" stroke-width="0.35">DP</text>
<text x="-0.07" y="318.5" font-size="21" textLength="78.42" lengthAdjust="spacingAndGlyphs" stroke="#000" stroke-width="0.35">CAV-cre</text>
<text x="347.52" y="357.8" font-size="21" textLength="78.73" lengthAdjust="spacingAndGlyphs" stroke="#000" stroke-width="0.35">CAV-cre</text>
<text x="137.83" y="415.4" font-size="18.9" textLength="37.68" lengthAdjust="spacingAndGlyphs" stroke="#000" stroke-width="0.35">CeA</text>
<text x="179.65" y="462.3" font-size="20.4" textLength="92.37" lengthAdjust="spacingAndGlyphs" stroke="#000" stroke-width="0.35">C57BL/6J</text>
</svg>
</body></html>
